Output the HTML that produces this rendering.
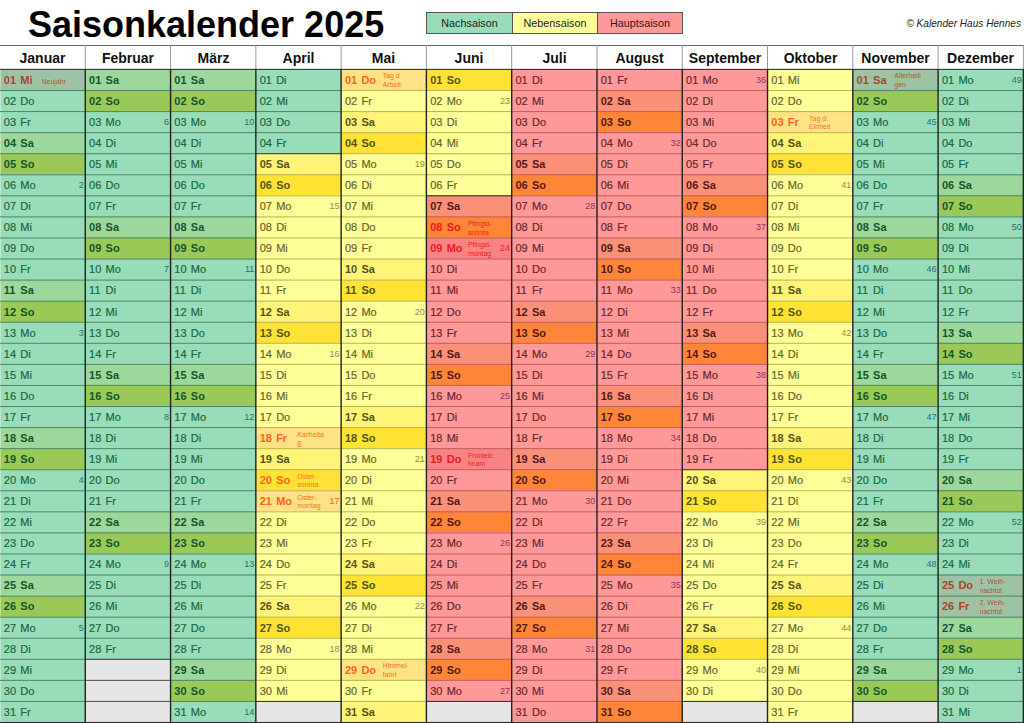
<!DOCTYPE html><html><head><meta charset="utf-8"><style>
*{margin:0;padding:0;box-sizing:border-box}
html,body{width:1024px;height:723px;overflow:hidden;background:#fff}
body{position:relative;font-family:"Liberation Sans",sans-serif}
div{position:absolute}
.c{overflow:hidden}
.d{font-size:11px;line-height:11px;white-space:nowrap;-webkit-text-stroke:0.2px currentColor}
.b{font-weight:bold;-webkit-text-stroke:0}
.k{font-size:9px;line-height:9px;text-align:right}
.h{font-size:7px;line-height:8.8px;white-space:nowrap;overflow:hidden}
.mh{font-size:14px;font-weight:bold;text-align:center;line-height:14px;color:#111}
.lg{font-size:10.8px;text-align:center;color:#222;line-height:21px}
svg{position:absolute;left:0;top:0}
</style></head><body>

<div style="left:28px;top:5px;font-size:36px;font-weight:bold;line-height:40px;color:#000;white-space:nowrap">Saisonkalender 2025</div>
<div class="lg" style="left:426px;top:12px;width:87px;height:22px;background:#98dcb9;border:1px solid #555">Nachsaison</div>
<div class="lg" style="left:512px;top:12px;width:86px;height:22px;background:#ffff99;border:1px solid #555">Nebensaison</div>
<div class="lg" style="left:597px;top:12px;width:86px;height:22px;background:#ff9999;border:1px solid #555">Hauptsaison</div>
<div style="right:3px;top:17.7px;font-size:10.1px;line-height:12px;font-style:italic;color:#222;white-space:nowrap">© Kalender Haus Hennes</div>
<div class="mh" style="left:0px;top:51px;width:85px">Januar</div>
<div class="mh" style="left:85px;top:51px;width:86px">Februar</div>
<div class="mh" style="left:171px;top:51px;width:85px">März</div>
<div class="mh" style="left:256px;top:51px;width:85px">April</div>
<div class="mh" style="left:341px;top:51px;width:85px">Mai</div>
<div class="mh" style="left:426px;top:51px;width:86px">Juni</div>
<div class="mh" style="left:512px;top:51px;width:85px">Juli</div>
<div class="mh" style="left:597px;top:51px;width:85px">August</div>
<div class="mh" style="left:682px;top:51px;width:86px">September</div>
<div class="mh" style="left:768px;top:51px;width:85px">Oktober</div>
<div class="mh" style="left:853px;top:51px;width:85px">November</div>
<div class="mh" style="left:938px;top:51px;width:85px">Dezember</div>
<div class="c" style="left:0px;top:69px;width:85px;height:22px;background:#9ec3a4">
<div class="d b" style="left:3.80px;top:6px;color:#aa462c">01</div>
<div class="d b" style="left:20.30px;top:6px;color:#aa462c">Mi</div>
<div class="h" style="left:41.50px;top:8.5px;color:#a65a3e">Neujahr</div>
</div>
<div class="c" style="left:0px;top:90px;width:85px;height:22px;background:#98dcb9">
<div class="d" style="left:3.80px;top:6px;color:#1a6840">02</div>
<div class="d" style="left:20.30px;top:6px;color:#1a6840">Do</div>
</div>
<div class="c" style="left:0px;top:111px;width:85px;height:22px;background:#98dcb9">
<div class="d" style="left:3.80px;top:6px;color:#1a6840">03</div>
<div class="d" style="left:20.30px;top:6px;color:#1a6840">Fr</div>
</div>
<div class="c" style="left:0px;top:132px;width:85px;height:22px;background:#9dd79b">
<div class="d b" style="left:3.80px;top:6px;color:#14562b">04</div>
<div class="d b" style="left:20.30px;top:6px;color:#14562b">Sa</div>
</div>
<div class="c" style="left:0px;top:153px;width:85px;height:22px;background:#9bc957">
<div class="d b" style="left:3.80px;top:6px;color:#14562b">05</div>
<div class="d b" style="left:20.30px;top:6px;color:#14562b">So</div>
</div>
<div class="c" style="left:0px;top:174px;width:85px;height:22px;background:#98dcb9">
<div class="d" style="left:3.80px;top:6px;color:#1a6840">06</div>
<div class="d" style="left:20.30px;top:6px;color:#1a6840">Mo</div>
<div class="k" style="right:1.32px;top:6.9px;color:#2a6f70">2</div>
</div>
<div class="c" style="left:0px;top:195px;width:85px;height:22px;background:#98dcb9">
<div class="d" style="left:3.80px;top:6px;color:#1a6840">07</div>
<div class="d" style="left:20.30px;top:6px;color:#1a6840">Di</div>
</div>
<div class="c" style="left:0px;top:216px;width:85px;height:22px;background:#98dcb9">
<div class="d" style="left:3.80px;top:6px;color:#1a6840">08</div>
<div class="d" style="left:20.30px;top:6px;color:#1a6840">Mi</div>
</div>
<div class="c" style="left:0px;top:237px;width:85px;height:23px;background:#98dcb9">
<div class="d" style="left:3.80px;top:6px;color:#1a6840">09</div>
<div class="d" style="left:20.30px;top:6px;color:#1a6840">Do</div>
</div>
<div class="c" style="left:0px;top:259px;width:85px;height:22px;background:#98dcb9">
<div class="d" style="left:3.80px;top:5px;color:#1a6840">10</div>
<div class="d" style="left:20.30px;top:5px;color:#1a6840">Fr</div>
</div>
<div class="c" style="left:0px;top:280px;width:85px;height:22px;background:#9dd79b">
<div class="d b" style="left:3.80px;top:5px;color:#14562b">11</div>
<div class="d b" style="left:20.30px;top:5px;color:#14562b">Sa</div>
</div>
<div class="c" style="left:0px;top:301px;width:85px;height:22px;background:#9bc957">
<div class="d b" style="left:3.80px;top:6px;color:#14562b">12</div>
<div class="d b" style="left:20.30px;top:6px;color:#14562b">So</div>
</div>
<div class="c" style="left:0px;top:322px;width:85px;height:22px;background:#98dcb9">
<div class="d" style="left:3.80px;top:6px;color:#1a6840">13</div>
<div class="d" style="left:20.30px;top:6px;color:#1a6840">Mo</div>
<div class="k" style="right:1.32px;top:6.9px;color:#2a6f70">3</div>
</div>
<div class="c" style="left:0px;top:343px;width:85px;height:22px;background:#98dcb9">
<div class="d" style="left:3.80px;top:6px;color:#1a6840">14</div>
<div class="d" style="left:20.30px;top:6px;color:#1a6840">Di</div>
</div>
<div class="c" style="left:0px;top:364px;width:85px;height:22px;background:#98dcb9">
<div class="d" style="left:3.80px;top:6px;color:#1a6840">15</div>
<div class="d" style="left:20.30px;top:6px;color:#1a6840">Mi</div>
</div>
<div class="c" style="left:0px;top:385px;width:85px;height:22px;background:#98dcb9">
<div class="d" style="left:3.80px;top:6px;color:#1a6840">16</div>
<div class="d" style="left:20.30px;top:6px;color:#1a6840">Do</div>
</div>
<div class="c" style="left:0px;top:406px;width:85px;height:22px;background:#98dcb9">
<div class="d" style="left:3.80px;top:6px;color:#1a6840">17</div>
<div class="d" style="left:20.30px;top:6px;color:#1a6840">Fr</div>
</div>
<div class="c" style="left:0px;top:427px;width:85px;height:22px;background:#9dd79b">
<div class="d b" style="left:3.80px;top:6px;color:#14562b">18</div>
<div class="d b" style="left:20.30px;top:6px;color:#14562b">Sa</div>
</div>
<div class="c" style="left:0px;top:448px;width:85px;height:22px;background:#9bc957">
<div class="d b" style="left:3.80px;top:6px;color:#14562b">19</div>
<div class="d b" style="left:20.30px;top:6px;color:#14562b">So</div>
</div>
<div class="c" style="left:0px;top:469px;width:85px;height:22px;background:#98dcb9">
<div class="d" style="left:3.80px;top:6px;color:#1a6840">20</div>
<div class="d" style="left:20.30px;top:6px;color:#1a6840">Mo</div>
<div class="k" style="right:1.32px;top:6.9px;color:#2a6f70">4</div>
</div>
<div class="c" style="left:0px;top:490px;width:85px;height:22px;background:#98dcb9">
<div class="d" style="left:3.80px;top:6px;color:#1a6840">21</div>
<div class="d" style="left:20.30px;top:6px;color:#1a6840">Di</div>
</div>
<div class="c" style="left:0px;top:511px;width:85px;height:22px;background:#98dcb9">
<div class="d" style="left:3.80px;top:6px;color:#1a6840">22</div>
<div class="d" style="left:20.30px;top:6px;color:#1a6840">Mi</div>
</div>
<div class="c" style="left:0px;top:532px;width:85px;height:22px;background:#98dcb9">
<div class="d" style="left:3.80px;top:6px;color:#1a6840">23</div>
<div class="d" style="left:20.30px;top:6px;color:#1a6840">Do</div>
</div>
<div class="c" style="left:0px;top:553px;width:85px;height:23px;background:#98dcb9">
<div class="d" style="left:3.80px;top:6px;color:#1a6840">24</div>
<div class="d" style="left:20.30px;top:6px;color:#1a6840">Fr</div>
</div>
<div class="c" style="left:0px;top:575px;width:85px;height:22px;background:#9dd79b">
<div class="d b" style="left:3.80px;top:5px;color:#14562b">25</div>
<div class="d b" style="left:20.30px;top:5px;color:#14562b">Sa</div>
</div>
<div class="c" style="left:0px;top:596px;width:85px;height:22px;background:#9bc957">
<div class="d b" style="left:3.80px;top:5px;color:#14562b">26</div>
<div class="d b" style="left:20.30px;top:5px;color:#14562b">So</div>
</div>
<div class="c" style="left:0px;top:617px;width:85px;height:22px;background:#98dcb9">
<div class="d" style="left:3.80px;top:6px;color:#1a6840">27</div>
<div class="d" style="left:20.30px;top:6px;color:#1a6840">Mo</div>
<div class="k" style="right:1.32px;top:6.9px;color:#2a6f70">5</div>
</div>
<div class="c" style="left:0px;top:638px;width:85px;height:22px;background:#98dcb9">
<div class="d" style="left:3.80px;top:6px;color:#1a6840">28</div>
<div class="d" style="left:20.30px;top:6px;color:#1a6840">Di</div>
</div>
<div class="c" style="left:0px;top:659px;width:85px;height:22px;background:#98dcb9">
<div class="d" style="left:3.80px;top:6px;color:#1a6840">29</div>
<div class="d" style="left:20.30px;top:6px;color:#1a6840">Mi</div>
</div>
<div class="c" style="left:0px;top:680px;width:85px;height:22px;background:#98dcb9">
<div class="d" style="left:3.80px;top:6px;color:#1a6840">30</div>
<div class="d" style="left:20.30px;top:6px;color:#1a6840">Do</div>
</div>
<div class="c" style="left:0px;top:701px;width:85px;height:22px;background:#98dcb9">
<div class="d" style="left:3.80px;top:6px;color:#1a6840">31</div>
<div class="d" style="left:20.30px;top:6px;color:#1a6840">Fr</div>
</div>
<div class="c" style="left:85px;top:69px;width:86px;height:22px;background:#9dd79b">
<div class="d b" style="left:4.08px;top:6px;color:#14562b">01</div>
<div class="d b" style="left:20.58px;top:6px;color:#14562b">Sa</div>
</div>
<div class="c" style="left:85px;top:90px;width:86px;height:22px;background:#9bc957">
<div class="d b" style="left:4.08px;top:6px;color:#14562b">02</div>
<div class="d b" style="left:20.58px;top:6px;color:#14562b">So</div>
</div>
<div class="c" style="left:85px;top:111px;width:86px;height:22px;background:#98dcb9">
<div class="d" style="left:4.08px;top:6px;color:#1a6840">03</div>
<div class="d" style="left:20.58px;top:6px;color:#1a6840">Mo</div>
<div class="k" style="right:2.04px;top:6.9px;color:#2a6f70">6</div>
</div>
<div class="c" style="left:85px;top:132px;width:86px;height:22px;background:#98dcb9">
<div class="d" style="left:4.08px;top:6px;color:#1a6840">04</div>
<div class="d" style="left:20.58px;top:6px;color:#1a6840">Di</div>
</div>
<div class="c" style="left:85px;top:153px;width:86px;height:22px;background:#98dcb9">
<div class="d" style="left:4.08px;top:6px;color:#1a6840">05</div>
<div class="d" style="left:20.58px;top:6px;color:#1a6840">Mi</div>
</div>
<div class="c" style="left:85px;top:174px;width:86px;height:22px;background:#98dcb9">
<div class="d" style="left:4.08px;top:6px;color:#1a6840">06</div>
<div class="d" style="left:20.58px;top:6px;color:#1a6840">Do</div>
</div>
<div class="c" style="left:85px;top:195px;width:86px;height:22px;background:#98dcb9">
<div class="d" style="left:4.08px;top:6px;color:#1a6840">07</div>
<div class="d" style="left:20.58px;top:6px;color:#1a6840">Fr</div>
</div>
<div class="c" style="left:85px;top:216px;width:86px;height:22px;background:#9dd79b">
<div class="d b" style="left:4.08px;top:6px;color:#14562b">08</div>
<div class="d b" style="left:20.58px;top:6px;color:#14562b">Sa</div>
</div>
<div class="c" style="left:85px;top:237px;width:86px;height:23px;background:#9bc957">
<div class="d b" style="left:4.08px;top:6px;color:#14562b">09</div>
<div class="d b" style="left:20.58px;top:6px;color:#14562b">So</div>
</div>
<div class="c" style="left:85px;top:259px;width:86px;height:22px;background:#98dcb9">
<div class="d" style="left:4.08px;top:5px;color:#1a6840">10</div>
<div class="d" style="left:20.58px;top:5px;color:#1a6840">Mo</div>
<div class="k" style="right:2.04px;top:5.9px;color:#2a6f70">7</div>
</div>
<div class="c" style="left:85px;top:280px;width:86px;height:22px;background:#98dcb9">
<div class="d" style="left:4.08px;top:5px;color:#1a6840">11</div>
<div class="d" style="left:20.58px;top:5px;color:#1a6840">Di</div>
</div>
<div class="c" style="left:85px;top:301px;width:86px;height:22px;background:#98dcb9">
<div class="d" style="left:4.08px;top:6px;color:#1a6840">12</div>
<div class="d" style="left:20.58px;top:6px;color:#1a6840">Mi</div>
</div>
<div class="c" style="left:85px;top:322px;width:86px;height:22px;background:#98dcb9">
<div class="d" style="left:4.08px;top:6px;color:#1a6840">13</div>
<div class="d" style="left:20.58px;top:6px;color:#1a6840">Do</div>
</div>
<div class="c" style="left:85px;top:343px;width:86px;height:22px;background:#98dcb9">
<div class="d" style="left:4.08px;top:6px;color:#1a6840">14</div>
<div class="d" style="left:20.58px;top:6px;color:#1a6840">Fr</div>
</div>
<div class="c" style="left:85px;top:364px;width:86px;height:22px;background:#9dd79b">
<div class="d b" style="left:4.08px;top:6px;color:#14562b">15</div>
<div class="d b" style="left:20.58px;top:6px;color:#14562b">Sa</div>
</div>
<div class="c" style="left:85px;top:385px;width:86px;height:22px;background:#9bc957">
<div class="d b" style="left:4.08px;top:6px;color:#14562b">16</div>
<div class="d b" style="left:20.58px;top:6px;color:#14562b">So</div>
</div>
<div class="c" style="left:85px;top:406px;width:86px;height:22px;background:#98dcb9">
<div class="d" style="left:4.08px;top:6px;color:#1a6840">17</div>
<div class="d" style="left:20.58px;top:6px;color:#1a6840">Mo</div>
<div class="k" style="right:2.04px;top:6.9px;color:#2a6f70">8</div>
</div>
<div class="c" style="left:85px;top:427px;width:86px;height:22px;background:#98dcb9">
<div class="d" style="left:4.08px;top:6px;color:#1a6840">18</div>
<div class="d" style="left:20.58px;top:6px;color:#1a6840">Di</div>
</div>
<div class="c" style="left:85px;top:448px;width:86px;height:22px;background:#98dcb9">
<div class="d" style="left:4.08px;top:6px;color:#1a6840">19</div>
<div class="d" style="left:20.58px;top:6px;color:#1a6840">Mi</div>
</div>
<div class="c" style="left:85px;top:469px;width:86px;height:22px;background:#98dcb9">
<div class="d" style="left:4.08px;top:6px;color:#1a6840">20</div>
<div class="d" style="left:20.58px;top:6px;color:#1a6840">Do</div>
</div>
<div class="c" style="left:85px;top:490px;width:86px;height:22px;background:#98dcb9">
<div class="d" style="left:4.08px;top:6px;color:#1a6840">21</div>
<div class="d" style="left:20.58px;top:6px;color:#1a6840">Fr</div>
</div>
<div class="c" style="left:85px;top:511px;width:86px;height:22px;background:#9dd79b">
<div class="d b" style="left:4.08px;top:6px;color:#14562b">22</div>
<div class="d b" style="left:20.58px;top:6px;color:#14562b">Sa</div>
</div>
<div class="c" style="left:85px;top:532px;width:86px;height:22px;background:#9bc957">
<div class="d b" style="left:4.08px;top:6px;color:#14562b">23</div>
<div class="d b" style="left:20.58px;top:6px;color:#14562b">So</div>
</div>
<div class="c" style="left:85px;top:553px;width:86px;height:23px;background:#98dcb9">
<div class="d" style="left:4.08px;top:6px;color:#1a6840">24</div>
<div class="d" style="left:20.58px;top:6px;color:#1a6840">Mo</div>
<div class="k" style="right:2.04px;top:6.9px;color:#2a6f70">9</div>
</div>
<div class="c" style="left:85px;top:575px;width:86px;height:22px;background:#98dcb9">
<div class="d" style="left:4.08px;top:5px;color:#1a6840">25</div>
<div class="d" style="left:20.58px;top:5px;color:#1a6840">Di</div>
</div>
<div class="c" style="left:85px;top:596px;width:86px;height:22px;background:#98dcb9">
<div class="d" style="left:4.08px;top:5px;color:#1a6840">26</div>
<div class="d" style="left:20.58px;top:5px;color:#1a6840">Mi</div>
</div>
<div class="c" style="left:85px;top:617px;width:86px;height:22px;background:#98dcb9">
<div class="d" style="left:4.08px;top:6px;color:#1a6840">27</div>
<div class="d" style="left:20.58px;top:6px;color:#1a6840">Do</div>
</div>
<div class="c" style="left:85px;top:638px;width:86px;height:22px;background:#98dcb9">
<div class="d" style="left:4.08px;top:6px;color:#1a6840">28</div>
<div class="d" style="left:20.58px;top:6px;color:#1a6840">Fr</div>
</div>
<div style="left:85px;top:659px;width:86px;height:22px;background:#e6e6e6"></div>
<div style="left:85px;top:680px;width:86px;height:22px;background:#e6e6e6"></div>
<div style="left:85px;top:701px;width:86px;height:22px;background:#e6e6e6"></div>
<div class="c" style="left:171px;top:69px;width:85px;height:22px;background:#9dd79b">
<div class="d b" style="left:3.36px;top:6px;color:#14562b">01</div>
<div class="d b" style="left:19.86px;top:6px;color:#14562b">Sa</div>
</div>
<div class="c" style="left:171px;top:90px;width:85px;height:22px;background:#9bc957">
<div class="d b" style="left:3.36px;top:6px;color:#14562b">02</div>
<div class="d b" style="left:19.86px;top:6px;color:#14562b">So</div>
</div>
<div class="c" style="left:171px;top:111px;width:85px;height:22px;background:#98dcb9">
<div class="d" style="left:3.36px;top:6px;color:#1a6840">03</div>
<div class="d" style="left:19.86px;top:6px;color:#1a6840">Mo</div>
<div class="k" style="right:1.76px;top:6.9px;color:#2a6f70">10</div>
</div>
<div class="c" style="left:171px;top:132px;width:85px;height:22px;background:#98dcb9">
<div class="d" style="left:3.36px;top:6px;color:#1a6840">04</div>
<div class="d" style="left:19.86px;top:6px;color:#1a6840">Di</div>
</div>
<div class="c" style="left:171px;top:153px;width:85px;height:22px;background:#98dcb9">
<div class="d" style="left:3.36px;top:6px;color:#1a6840">05</div>
<div class="d" style="left:19.86px;top:6px;color:#1a6840">Mi</div>
</div>
<div class="c" style="left:171px;top:174px;width:85px;height:22px;background:#98dcb9">
<div class="d" style="left:3.36px;top:6px;color:#1a6840">06</div>
<div class="d" style="left:19.86px;top:6px;color:#1a6840">Do</div>
</div>
<div class="c" style="left:171px;top:195px;width:85px;height:22px;background:#98dcb9">
<div class="d" style="left:3.36px;top:6px;color:#1a6840">07</div>
<div class="d" style="left:19.86px;top:6px;color:#1a6840">Fr</div>
</div>
<div class="c" style="left:171px;top:216px;width:85px;height:22px;background:#9dd79b">
<div class="d b" style="left:3.36px;top:6px;color:#14562b">08</div>
<div class="d b" style="left:19.86px;top:6px;color:#14562b">Sa</div>
</div>
<div class="c" style="left:171px;top:237px;width:85px;height:23px;background:#9bc957">
<div class="d b" style="left:3.36px;top:6px;color:#14562b">09</div>
<div class="d b" style="left:19.86px;top:6px;color:#14562b">So</div>
</div>
<div class="c" style="left:171px;top:259px;width:85px;height:22px;background:#98dcb9">
<div class="d" style="left:3.36px;top:5px;color:#1a6840">10</div>
<div class="d" style="left:19.86px;top:5px;color:#1a6840">Mo</div>
<div class="k" style="right:1.76px;top:5.9px;color:#2a6f70">11</div>
</div>
<div class="c" style="left:171px;top:280px;width:85px;height:22px;background:#98dcb9">
<div class="d" style="left:3.36px;top:5px;color:#1a6840">11</div>
<div class="d" style="left:19.86px;top:5px;color:#1a6840">Di</div>
</div>
<div class="c" style="left:171px;top:301px;width:85px;height:22px;background:#98dcb9">
<div class="d" style="left:3.36px;top:6px;color:#1a6840">12</div>
<div class="d" style="left:19.86px;top:6px;color:#1a6840">Mi</div>
</div>
<div class="c" style="left:171px;top:322px;width:85px;height:22px;background:#98dcb9">
<div class="d" style="left:3.36px;top:6px;color:#1a6840">13</div>
<div class="d" style="left:19.86px;top:6px;color:#1a6840">Do</div>
</div>
<div class="c" style="left:171px;top:343px;width:85px;height:22px;background:#98dcb9">
<div class="d" style="left:3.36px;top:6px;color:#1a6840">14</div>
<div class="d" style="left:19.86px;top:6px;color:#1a6840">Fr</div>
</div>
<div class="c" style="left:171px;top:364px;width:85px;height:22px;background:#9dd79b">
<div class="d b" style="left:3.36px;top:6px;color:#14562b">15</div>
<div class="d b" style="left:19.86px;top:6px;color:#14562b">Sa</div>
</div>
<div class="c" style="left:171px;top:385px;width:85px;height:22px;background:#9bc957">
<div class="d b" style="left:3.36px;top:6px;color:#14562b">16</div>
<div class="d b" style="left:19.86px;top:6px;color:#14562b">So</div>
</div>
<div class="c" style="left:171px;top:406px;width:85px;height:22px;background:#98dcb9">
<div class="d" style="left:3.36px;top:6px;color:#1a6840">17</div>
<div class="d" style="left:19.86px;top:6px;color:#1a6840">Mo</div>
<div class="k" style="right:1.76px;top:6.9px;color:#2a6f70">12</div>
</div>
<div class="c" style="left:171px;top:427px;width:85px;height:22px;background:#98dcb9">
<div class="d" style="left:3.36px;top:6px;color:#1a6840">18</div>
<div class="d" style="left:19.86px;top:6px;color:#1a6840">Di</div>
</div>
<div class="c" style="left:171px;top:448px;width:85px;height:22px;background:#98dcb9">
<div class="d" style="left:3.36px;top:6px;color:#1a6840">19</div>
<div class="d" style="left:19.86px;top:6px;color:#1a6840">Mi</div>
</div>
<div class="c" style="left:171px;top:469px;width:85px;height:22px;background:#98dcb9">
<div class="d" style="left:3.36px;top:6px;color:#1a6840">20</div>
<div class="d" style="left:19.86px;top:6px;color:#1a6840">Do</div>
</div>
<div class="c" style="left:171px;top:490px;width:85px;height:22px;background:#98dcb9">
<div class="d" style="left:3.36px;top:6px;color:#1a6840">21</div>
<div class="d" style="left:19.86px;top:6px;color:#1a6840">Fr</div>
</div>
<div class="c" style="left:171px;top:511px;width:85px;height:22px;background:#9dd79b">
<div class="d b" style="left:3.36px;top:6px;color:#14562b">22</div>
<div class="d b" style="left:19.86px;top:6px;color:#14562b">Sa</div>
</div>
<div class="c" style="left:171px;top:532px;width:85px;height:22px;background:#9bc957">
<div class="d b" style="left:3.36px;top:6px;color:#14562b">23</div>
<div class="d b" style="left:19.86px;top:6px;color:#14562b">So</div>
</div>
<div class="c" style="left:171px;top:553px;width:85px;height:23px;background:#98dcb9">
<div class="d" style="left:3.36px;top:6px;color:#1a6840">24</div>
<div class="d" style="left:19.86px;top:6px;color:#1a6840">Mo</div>
<div class="k" style="right:1.76px;top:6.9px;color:#2a6f70">13</div>
</div>
<div class="c" style="left:171px;top:575px;width:85px;height:22px;background:#98dcb9">
<div class="d" style="left:3.36px;top:5px;color:#1a6840">25</div>
<div class="d" style="left:19.86px;top:5px;color:#1a6840">Di</div>
</div>
<div class="c" style="left:171px;top:596px;width:85px;height:22px;background:#98dcb9">
<div class="d" style="left:3.36px;top:5px;color:#1a6840">26</div>
<div class="d" style="left:19.86px;top:5px;color:#1a6840">Mi</div>
</div>
<div class="c" style="left:171px;top:617px;width:85px;height:22px;background:#98dcb9">
<div class="d" style="left:3.36px;top:6px;color:#1a6840">27</div>
<div class="d" style="left:19.86px;top:6px;color:#1a6840">Do</div>
</div>
<div class="c" style="left:171px;top:638px;width:85px;height:22px;background:#98dcb9">
<div class="d" style="left:3.36px;top:6px;color:#1a6840">28</div>
<div class="d" style="left:19.86px;top:6px;color:#1a6840">Fr</div>
</div>
<div class="c" style="left:171px;top:659px;width:85px;height:22px;background:#9dd79b">
<div class="d b" style="left:3.36px;top:6px;color:#14562b">29</div>
<div class="d b" style="left:19.86px;top:6px;color:#14562b">Sa</div>
</div>
<div class="c" style="left:171px;top:680px;width:85px;height:22px;background:#9bc957">
<div class="d b" style="left:3.36px;top:6px;color:#14562b">30</div>
<div class="d b" style="left:19.86px;top:6px;color:#14562b">So</div>
</div>
<div class="c" style="left:171px;top:701px;width:85px;height:22px;background:#98dcb9">
<div class="d" style="left:3.36px;top:6px;color:#1a6840">31</div>
<div class="d" style="left:19.86px;top:6px;color:#1a6840">Mo</div>
<div class="k" style="right:1.76px;top:6.9px;color:#2a6f70">14</div>
</div>
<div class="c" style="left:256px;top:69px;width:85px;height:22px;background:#98dcb9">
<div class="d" style="left:3.64px;top:6px;color:#1a6840">01</div>
<div class="d" style="left:20.14px;top:6px;color:#1a6840">Di</div>
</div>
<div class="c" style="left:256px;top:90px;width:85px;height:22px;background:#98dcb9">
<div class="d" style="left:3.64px;top:6px;color:#1a6840">02</div>
<div class="d" style="left:20.14px;top:6px;color:#1a6840">Mi</div>
</div>
<div class="c" style="left:256px;top:111px;width:85px;height:22px;background:#98dcb9">
<div class="d" style="left:3.64px;top:6px;color:#1a6840">03</div>
<div class="d" style="left:20.14px;top:6px;color:#1a6840">Do</div>
</div>
<div class="c" style="left:256px;top:132px;width:85px;height:22px;background:#98dcb9">
<div class="d" style="left:3.64px;top:6px;color:#1a6840">04</div>
<div class="d" style="left:20.14px;top:6px;color:#1a6840">Fr</div>
</div>
<div class="c" style="left:256px;top:153px;width:85px;height:22px;background:#fff378">
<div class="d b" style="left:3.64px;top:6px;color:#55551a">05</div>
<div class="d b" style="left:20.14px;top:6px;color:#55551a">Sa</div>
</div>
<div class="c" style="left:256px;top:174px;width:85px;height:22px;background:#ffe234">
<div class="d b" style="left:3.64px;top:6px;color:#55551a">06</div>
<div class="d b" style="left:20.14px;top:6px;color:#55551a">So</div>
</div>
<div class="c" style="left:256px;top:195px;width:85px;height:22px;background:#ffff99">
<div class="d" style="left:3.64px;top:6px;color:#66662a">07</div>
<div class="d" style="left:20.14px;top:6px;color:#66662a">Mo</div>
<div class="k" style="right:1.48px;top:6.9px;color:#8c8c55">15</div>
</div>
<div class="c" style="left:256px;top:216px;width:85px;height:22px;background:#ffff99">
<div class="d" style="left:3.64px;top:6px;color:#66662a">08</div>
<div class="d" style="left:20.14px;top:6px;color:#66662a">Di</div>
</div>
<div class="c" style="left:256px;top:237px;width:85px;height:23px;background:#ffff99">
<div class="d" style="left:3.64px;top:6px;color:#66662a">09</div>
<div class="d" style="left:20.14px;top:6px;color:#66662a">Mi</div>
</div>
<div class="c" style="left:256px;top:259px;width:85px;height:22px;background:#ffff99">
<div class="d" style="left:3.64px;top:5px;color:#66662a">10</div>
<div class="d" style="left:20.14px;top:5px;color:#66662a">Do</div>
</div>
<div class="c" style="left:256px;top:280px;width:85px;height:22px;background:#ffff99">
<div class="d" style="left:3.64px;top:5px;color:#66662a">11</div>
<div class="d" style="left:20.14px;top:5px;color:#66662a">Fr</div>
</div>
<div class="c" style="left:256px;top:301px;width:85px;height:22px;background:#fff378">
<div class="d b" style="left:3.64px;top:6px;color:#55551a">12</div>
<div class="d b" style="left:20.14px;top:6px;color:#55551a">Sa</div>
</div>
<div class="c" style="left:256px;top:322px;width:85px;height:22px;background:#ffe234">
<div class="d b" style="left:3.64px;top:6px;color:#55551a">13</div>
<div class="d b" style="left:20.14px;top:6px;color:#55551a">So</div>
</div>
<div class="c" style="left:256px;top:343px;width:85px;height:22px;background:#ffff99">
<div class="d" style="left:3.64px;top:6px;color:#66662a">14</div>
<div class="d" style="left:20.14px;top:6px;color:#66662a">Mo</div>
<div class="k" style="right:1.48px;top:6.9px;color:#8c8c55">16</div>
</div>
<div class="c" style="left:256px;top:364px;width:85px;height:22px;background:#ffff99">
<div class="d" style="left:3.64px;top:6px;color:#66662a">15</div>
<div class="d" style="left:20.14px;top:6px;color:#66662a">Di</div>
</div>
<div class="c" style="left:256px;top:385px;width:85px;height:22px;background:#ffff99">
<div class="d" style="left:3.64px;top:6px;color:#66662a">16</div>
<div class="d" style="left:20.14px;top:6px;color:#66662a">Mi</div>
</div>
<div class="c" style="left:256px;top:406px;width:85px;height:22px;background:#ffff99">
<div class="d" style="left:3.64px;top:6px;color:#66662a">17</div>
<div class="d" style="left:20.14px;top:6px;color:#66662a">Do</div>
</div>
<div class="c" style="left:256px;top:427px;width:85px;height:22px;background:#ffe186">
<div class="d b" style="left:3.64px;top:6px;color:#ff6619">18</div>
<div class="d b" style="left:20.14px;top:6px;color:#ff6619">Fr</div>
<div class="h" style="left:41.34px;top:3.5px;width:34px;color:#f57425">Karfreita<br>g</div>
</div>
<div class="c" style="left:256px;top:448px;width:85px;height:22px;background:#fff378">
<div class="d b" style="left:3.64px;top:6px;color:#55551a">19</div>
<div class="d b" style="left:20.14px;top:6px;color:#55551a">Sa</div>
</div>
<div class="c" style="left:256px;top:469px;width:85px;height:22px;background:#ffe234">
<div class="d b" style="left:3.64px;top:6px;color:#ff6619">20</div>
<div class="d b" style="left:20.14px;top:6px;color:#ff6619">So</div>
<div class="h" style="left:41.34px;top:3.7px;width:34px;color:#f57425">Oster-<br>sonnta</div>
</div>
<div class="c" style="left:256px;top:490px;width:85px;height:22px;background:#ffe186">
<div class="d b" style="left:3.64px;top:6px;color:#ff6619">21</div>
<div class="d b" style="left:20.14px;top:6px;color:#ff6619">Mo</div>
<div class="h" style="left:41.34px;top:3.7px;width:34px;color:#f57425">Oster-<br>montag</div>
<div class="k" style="right:1.48px;top:6.9px;color:#ff6619">17</div>
</div>
<div class="c" style="left:256px;top:511px;width:85px;height:22px;background:#ffff99">
<div class="d" style="left:3.64px;top:6px;color:#66662a">22</div>
<div class="d" style="left:20.14px;top:6px;color:#66662a">Di</div>
</div>
<div class="c" style="left:256px;top:532px;width:85px;height:22px;background:#ffff99">
<div class="d" style="left:3.64px;top:6px;color:#66662a">23</div>
<div class="d" style="left:20.14px;top:6px;color:#66662a">Mi</div>
</div>
<div class="c" style="left:256px;top:553px;width:85px;height:23px;background:#ffff99">
<div class="d" style="left:3.64px;top:6px;color:#66662a">24</div>
<div class="d" style="left:20.14px;top:6px;color:#66662a">Do</div>
</div>
<div class="c" style="left:256px;top:575px;width:85px;height:22px;background:#ffff99">
<div class="d" style="left:3.64px;top:5px;color:#66662a">25</div>
<div class="d" style="left:20.14px;top:5px;color:#66662a">Fr</div>
</div>
<div class="c" style="left:256px;top:596px;width:85px;height:22px;background:#fff378">
<div class="d b" style="left:3.64px;top:5px;color:#55551a">26</div>
<div class="d b" style="left:20.14px;top:5px;color:#55551a">Sa</div>
</div>
<div class="c" style="left:256px;top:617px;width:85px;height:22px;background:#ffe234">
<div class="d b" style="left:3.64px;top:6px;color:#55551a">27</div>
<div class="d b" style="left:20.14px;top:6px;color:#55551a">So</div>
</div>
<div class="c" style="left:256px;top:638px;width:85px;height:22px;background:#ffff99">
<div class="d" style="left:3.64px;top:6px;color:#66662a">28</div>
<div class="d" style="left:20.14px;top:6px;color:#66662a">Mo</div>
<div class="k" style="right:1.48px;top:6.9px;color:#8c8c55">18</div>
</div>
<div class="c" style="left:256px;top:659px;width:85px;height:22px;background:#ffff99">
<div class="d" style="left:3.64px;top:6px;color:#66662a">29</div>
<div class="d" style="left:20.14px;top:6px;color:#66662a">Di</div>
</div>
<div class="c" style="left:256px;top:680px;width:85px;height:22px;background:#ffff99">
<div class="d" style="left:3.64px;top:6px;color:#66662a">30</div>
<div class="d" style="left:20.14px;top:6px;color:#66662a">Mi</div>
</div>
<div style="left:256px;top:701px;width:85px;height:22px;background:#e6e6e6"></div>
<div class="c" style="left:341px;top:69px;width:85px;height:22px;background:#ffe186">
<div class="d b" style="left:3.92px;top:6px;color:#ff6619">01</div>
<div class="d b" style="left:20.42px;top:6px;color:#ff6619">Do</div>
<div class="h" style="left:41.62px;top:3.4px;width:34px;color:#f57425">Tag d<br>Arbeit</div>
</div>
<div class="c" style="left:341px;top:90px;width:85px;height:22px;background:#ffff99">
<div class="d" style="left:3.92px;top:6px;color:#66662a">02</div>
<div class="d" style="left:20.42px;top:6px;color:#66662a">Fr</div>
</div>
<div class="c" style="left:341px;top:111px;width:85px;height:22px;background:#fff378">
<div class="d b" style="left:3.92px;top:6px;color:#55551a">03</div>
<div class="d b" style="left:20.42px;top:6px;color:#55551a">Sa</div>
</div>
<div class="c" style="left:341px;top:132px;width:85px;height:22px;background:#ffe234">
<div class="d b" style="left:3.92px;top:6px;color:#55551a">04</div>
<div class="d b" style="left:20.42px;top:6px;color:#55551a">So</div>
</div>
<div class="c" style="left:341px;top:153px;width:85px;height:22px;background:#ffff99">
<div class="d" style="left:3.92px;top:6px;color:#66662a">05</div>
<div class="d" style="left:20.42px;top:6px;color:#66662a">Mo</div>
<div class="k" style="right:1.20px;top:6.9px;color:#8c8c55">19</div>
</div>
<div class="c" style="left:341px;top:174px;width:85px;height:22px;background:#ffff99">
<div class="d" style="left:3.92px;top:6px;color:#66662a">06</div>
<div class="d" style="left:20.42px;top:6px;color:#66662a">Di</div>
</div>
<div class="c" style="left:341px;top:195px;width:85px;height:22px;background:#ffff99">
<div class="d" style="left:3.92px;top:6px;color:#66662a">07</div>
<div class="d" style="left:20.42px;top:6px;color:#66662a">Mi</div>
</div>
<div class="c" style="left:341px;top:216px;width:85px;height:22px;background:#ffff99">
<div class="d" style="left:3.92px;top:6px;color:#66662a">08</div>
<div class="d" style="left:20.42px;top:6px;color:#66662a">Do</div>
</div>
<div class="c" style="left:341px;top:237px;width:85px;height:23px;background:#ffff99">
<div class="d" style="left:3.92px;top:6px;color:#66662a">09</div>
<div class="d" style="left:20.42px;top:6px;color:#66662a">Fr</div>
</div>
<div class="c" style="left:341px;top:259px;width:85px;height:22px;background:#fff378">
<div class="d b" style="left:3.92px;top:5px;color:#55551a">10</div>
<div class="d b" style="left:20.42px;top:5px;color:#55551a">Sa</div>
</div>
<div class="c" style="left:341px;top:280px;width:85px;height:22px;background:#ffe234">
<div class="d b" style="left:3.92px;top:5px;color:#55551a">11</div>
<div class="d b" style="left:20.42px;top:5px;color:#55551a">So</div>
</div>
<div class="c" style="left:341px;top:301px;width:85px;height:22px;background:#ffff99">
<div class="d" style="left:3.92px;top:6px;color:#66662a">12</div>
<div class="d" style="left:20.42px;top:6px;color:#66662a">Mo</div>
<div class="k" style="right:1.20px;top:6.9px;color:#8c8c55">20</div>
</div>
<div class="c" style="left:341px;top:322px;width:85px;height:22px;background:#ffff99">
<div class="d" style="left:3.92px;top:6px;color:#66662a">13</div>
<div class="d" style="left:20.42px;top:6px;color:#66662a">Di</div>
</div>
<div class="c" style="left:341px;top:343px;width:85px;height:22px;background:#ffff99">
<div class="d" style="left:3.92px;top:6px;color:#66662a">14</div>
<div class="d" style="left:20.42px;top:6px;color:#66662a">Mi</div>
</div>
<div class="c" style="left:341px;top:364px;width:85px;height:22px;background:#ffff99">
<div class="d" style="left:3.92px;top:6px;color:#66662a">15</div>
<div class="d" style="left:20.42px;top:6px;color:#66662a">Do</div>
</div>
<div class="c" style="left:341px;top:385px;width:85px;height:22px;background:#ffff99">
<div class="d" style="left:3.92px;top:6px;color:#66662a">16</div>
<div class="d" style="left:20.42px;top:6px;color:#66662a">Fr</div>
</div>
<div class="c" style="left:341px;top:406px;width:85px;height:22px;background:#fff378">
<div class="d b" style="left:3.92px;top:6px;color:#55551a">17</div>
<div class="d b" style="left:20.42px;top:6px;color:#55551a">Sa</div>
</div>
<div class="c" style="left:341px;top:427px;width:85px;height:22px;background:#ffe234">
<div class="d b" style="left:3.92px;top:6px;color:#55551a">18</div>
<div class="d b" style="left:20.42px;top:6px;color:#55551a">So</div>
</div>
<div class="c" style="left:341px;top:448px;width:85px;height:22px;background:#ffff99">
<div class="d" style="left:3.92px;top:6px;color:#66662a">19</div>
<div class="d" style="left:20.42px;top:6px;color:#66662a">Mo</div>
<div class="k" style="right:1.20px;top:6.9px;color:#8c8c55">21</div>
</div>
<div class="c" style="left:341px;top:469px;width:85px;height:22px;background:#ffff99">
<div class="d" style="left:3.92px;top:6px;color:#66662a">20</div>
<div class="d" style="left:20.42px;top:6px;color:#66662a">Di</div>
</div>
<div class="c" style="left:341px;top:490px;width:85px;height:22px;background:#ffff99">
<div class="d" style="left:3.92px;top:6px;color:#66662a">21</div>
<div class="d" style="left:20.42px;top:6px;color:#66662a">Mi</div>
</div>
<div class="c" style="left:341px;top:511px;width:85px;height:22px;background:#ffff99">
<div class="d" style="left:3.92px;top:6px;color:#66662a">22</div>
<div class="d" style="left:20.42px;top:6px;color:#66662a">Do</div>
</div>
<div class="c" style="left:341px;top:532px;width:85px;height:22px;background:#ffff99">
<div class="d" style="left:3.92px;top:6px;color:#66662a">23</div>
<div class="d" style="left:20.42px;top:6px;color:#66662a">Fr</div>
</div>
<div class="c" style="left:341px;top:553px;width:85px;height:23px;background:#fff378">
<div class="d b" style="left:3.92px;top:6px;color:#55551a">24</div>
<div class="d b" style="left:20.42px;top:6px;color:#55551a">Sa</div>
</div>
<div class="c" style="left:341px;top:575px;width:85px;height:22px;background:#ffe234">
<div class="d b" style="left:3.92px;top:5px;color:#55551a">25</div>
<div class="d b" style="left:20.42px;top:5px;color:#55551a">So</div>
</div>
<div class="c" style="left:341px;top:596px;width:85px;height:22px;background:#ffff99">
<div class="d" style="left:3.92px;top:5px;color:#66662a">26</div>
<div class="d" style="left:20.42px;top:5px;color:#66662a">Mo</div>
<div class="k" style="right:1.20px;top:5.9px;color:#8c8c55">22</div>
</div>
<div class="c" style="left:341px;top:617px;width:85px;height:22px;background:#ffff99">
<div class="d" style="left:3.92px;top:6px;color:#66662a">27</div>
<div class="d" style="left:20.42px;top:6px;color:#66662a">Di</div>
</div>
<div class="c" style="left:341px;top:638px;width:85px;height:22px;background:#ffff99">
<div class="d" style="left:3.92px;top:6px;color:#66662a">28</div>
<div class="d" style="left:20.42px;top:6px;color:#66662a">Mi</div>
</div>
<div class="c" style="left:341px;top:659px;width:85px;height:22px;background:#ffe186">
<div class="d b" style="left:3.92px;top:6px;color:#ff6619">29</div>
<div class="d b" style="left:20.42px;top:6px;color:#ff6619">Do</div>
<div class="h" style="left:41.62px;top:3.3px;width:34px;color:#f57425">Himmel-<br>fahrt</div>
</div>
<div class="c" style="left:341px;top:680px;width:85px;height:22px;background:#ffff99">
<div class="d" style="left:3.92px;top:6px;color:#66662a">30</div>
<div class="d" style="left:20.42px;top:6px;color:#66662a">Fr</div>
</div>
<div class="c" style="left:341px;top:701px;width:85px;height:22px;background:#fff378">
<div class="d b" style="left:3.92px;top:6px;color:#55551a">31</div>
<div class="d b" style="left:20.42px;top:6px;color:#55551a">Sa</div>
</div>
<div class="c" style="left:426px;top:69px;width:86px;height:22px;background:#ffe234">
<div class="d b" style="left:4.20px;top:6px;color:#55551a">01</div>
<div class="d b" style="left:20.70px;top:6px;color:#55551a">So</div>
</div>
<div class="c" style="left:426px;top:90px;width:86px;height:22px;background:#ffff99">
<div class="d" style="left:4.20px;top:6px;color:#66662a">02</div>
<div class="d" style="left:20.70px;top:6px;color:#66662a">Mo</div>
<div class="k" style="right:1.92px;top:6.9px;color:#8c8c55">23</div>
</div>
<div class="c" style="left:426px;top:111px;width:86px;height:22px;background:#ffff99">
<div class="d" style="left:4.20px;top:6px;color:#66662a">03</div>
<div class="d" style="left:20.70px;top:6px;color:#66662a">Di</div>
</div>
<div class="c" style="left:426px;top:132px;width:86px;height:22px;background:#ffff99">
<div class="d" style="left:4.20px;top:6px;color:#66662a">04</div>
<div class="d" style="left:20.70px;top:6px;color:#66662a">Mi</div>
</div>
<div class="c" style="left:426px;top:153px;width:86px;height:22px;background:#ffff99">
<div class="d" style="left:4.20px;top:6px;color:#66662a">05</div>
<div class="d" style="left:20.70px;top:6px;color:#66662a">Do</div>
</div>
<div class="c" style="left:426px;top:174px;width:86px;height:22px;background:#ffff99">
<div class="d" style="left:4.20px;top:6px;color:#66662a">06</div>
<div class="d" style="left:20.70px;top:6px;color:#66662a">Fr</div>
</div>
<div class="c" style="left:426px;top:195px;width:86px;height:22px;background:#fa9078">
<div class="d b" style="left:4.20px;top:6px;color:#571818">07</div>
<div class="d b" style="left:20.70px;top:6px;color:#571818">Sa</div>
</div>
<div class="c" style="left:426px;top:216px;width:86px;height:22px;background:#ff8638">
<div class="d b" style="left:4.20px;top:6px;color:#ee1c1c">08</div>
<div class="d b" style="left:20.70px;top:6px;color:#ee1c1c">So</div>
<div class="h" style="left:41.90px;top:3.9px;width:34px;color:#e82424">Pfingst-<br>sonnta</div>
</div>
<div class="c" style="left:426px;top:237px;width:86px;height:23px;background:#f88385">
<div class="d b" style="left:4.20px;top:6px;color:#ee1c1c">09</div>
<div class="d b" style="left:20.70px;top:6px;color:#ee1c1c">Mo</div>
<div class="h" style="left:41.90px;top:3.9px;width:34px;color:#e82424">Pfingst-<br>montag</div>
<div class="k" style="right:1.92px;top:6.9px;color:#ee1c1c">24</div>
</div>
<div class="c" style="left:426px;top:259px;width:86px;height:22px;background:#ff9999">
<div class="d" style="left:4.20px;top:5px;color:#6a2626">10</div>
<div class="d" style="left:20.70px;top:5px;color:#6a2626">Di</div>
</div>
<div class="c" style="left:426px;top:280px;width:86px;height:22px;background:#ff9999">
<div class="d" style="left:4.20px;top:5px;color:#6a2626">11</div>
<div class="d" style="left:20.70px;top:5px;color:#6a2626">Mi</div>
</div>
<div class="c" style="left:426px;top:301px;width:86px;height:22px;background:#ff9999">
<div class="d" style="left:4.20px;top:6px;color:#6a2626">12</div>
<div class="d" style="left:20.70px;top:6px;color:#6a2626">Do</div>
</div>
<div class="c" style="left:426px;top:322px;width:86px;height:22px;background:#ff9999">
<div class="d" style="left:4.20px;top:6px;color:#6a2626">13</div>
<div class="d" style="left:20.70px;top:6px;color:#6a2626">Fr</div>
</div>
<div class="c" style="left:426px;top:343px;width:86px;height:22px;background:#fa9078">
<div class="d b" style="left:4.20px;top:6px;color:#571818">14</div>
<div class="d b" style="left:20.70px;top:6px;color:#571818">Sa</div>
</div>
<div class="c" style="left:426px;top:364px;width:86px;height:22px;background:#ff8638">
<div class="d b" style="left:4.20px;top:6px;color:#571818">15</div>
<div class="d b" style="left:20.70px;top:6px;color:#571818">So</div>
</div>
<div class="c" style="left:426px;top:385px;width:86px;height:22px;background:#ff9999">
<div class="d" style="left:4.20px;top:6px;color:#6a2626">16</div>
<div class="d" style="left:20.70px;top:6px;color:#6a2626">Mo</div>
<div class="k" style="right:1.92px;top:6.9px;color:#902e60">25</div>
</div>
<div class="c" style="left:426px;top:406px;width:86px;height:22px;background:#ff9999">
<div class="d" style="left:4.20px;top:6px;color:#6a2626">17</div>
<div class="d" style="left:20.70px;top:6px;color:#6a2626">Di</div>
</div>
<div class="c" style="left:426px;top:427px;width:86px;height:22px;background:#ff9999">
<div class="d" style="left:4.20px;top:6px;color:#6a2626">18</div>
<div class="d" style="left:20.70px;top:6px;color:#6a2626">Mi</div>
</div>
<div class="c" style="left:426px;top:448px;width:86px;height:22px;background:#f88385">
<div class="d b" style="left:4.20px;top:6px;color:#ee1c1c">19</div>
<div class="d b" style="left:20.70px;top:6px;color:#ee1c1c">Do</div>
<div class="h" style="left:41.90px;top:3.6px;width:34px;color:#e82424">Fronleic<br>hnam</div>
</div>
<div class="c" style="left:426px;top:469px;width:86px;height:22px;background:#ff9999">
<div class="d" style="left:4.20px;top:6px;color:#6a2626">20</div>
<div class="d" style="left:20.70px;top:6px;color:#6a2626">Fr</div>
</div>
<div class="c" style="left:426px;top:490px;width:86px;height:22px;background:#fa9078">
<div class="d b" style="left:4.20px;top:6px;color:#571818">21</div>
<div class="d b" style="left:20.70px;top:6px;color:#571818">Sa</div>
</div>
<div class="c" style="left:426px;top:511px;width:86px;height:22px;background:#ff8638">
<div class="d b" style="left:4.20px;top:6px;color:#571818">22</div>
<div class="d b" style="left:20.70px;top:6px;color:#571818">So</div>
</div>
<div class="c" style="left:426px;top:532px;width:86px;height:22px;background:#ff9999">
<div class="d" style="left:4.20px;top:6px;color:#6a2626">23</div>
<div class="d" style="left:20.70px;top:6px;color:#6a2626">Mo</div>
<div class="k" style="right:1.92px;top:6.9px;color:#902e60">26</div>
</div>
<div class="c" style="left:426px;top:553px;width:86px;height:23px;background:#ff9999">
<div class="d" style="left:4.20px;top:6px;color:#6a2626">24</div>
<div class="d" style="left:20.70px;top:6px;color:#6a2626">Di</div>
</div>
<div class="c" style="left:426px;top:575px;width:86px;height:22px;background:#ff9999">
<div class="d" style="left:4.20px;top:5px;color:#6a2626">25</div>
<div class="d" style="left:20.70px;top:5px;color:#6a2626">Mi</div>
</div>
<div class="c" style="left:426px;top:596px;width:86px;height:22px;background:#ff9999">
<div class="d" style="left:4.20px;top:5px;color:#6a2626">26</div>
<div class="d" style="left:20.70px;top:5px;color:#6a2626">Do</div>
</div>
<div class="c" style="left:426px;top:617px;width:86px;height:22px;background:#ff9999">
<div class="d" style="left:4.20px;top:6px;color:#6a2626">27</div>
<div class="d" style="left:20.70px;top:6px;color:#6a2626">Fr</div>
</div>
<div class="c" style="left:426px;top:638px;width:86px;height:22px;background:#fa9078">
<div class="d b" style="left:4.20px;top:6px;color:#571818">28</div>
<div class="d b" style="left:20.70px;top:6px;color:#571818">Sa</div>
</div>
<div class="c" style="left:426px;top:659px;width:86px;height:22px;background:#ff8638">
<div class="d b" style="left:4.20px;top:6px;color:#571818">29</div>
<div class="d b" style="left:20.70px;top:6px;color:#571818">So</div>
</div>
<div class="c" style="left:426px;top:680px;width:86px;height:22px;background:#ff9999">
<div class="d" style="left:4.20px;top:6px;color:#6a2626">30</div>
<div class="d" style="left:20.70px;top:6px;color:#6a2626">Mo</div>
<div class="k" style="right:1.92px;top:6.9px;color:#902e60">27</div>
</div>
<div style="left:426px;top:701px;width:86px;height:22px;background:#e6e6e6"></div>
<div class="c" style="left:512px;top:69px;width:85px;height:22px;background:#ff9999">
<div class="d" style="left:3.48px;top:6px;color:#6a2626">01</div>
<div class="d" style="left:19.98px;top:6px;color:#6a2626">Di</div>
</div>
<div class="c" style="left:512px;top:90px;width:85px;height:22px;background:#ff9999">
<div class="d" style="left:3.48px;top:6px;color:#6a2626">02</div>
<div class="d" style="left:19.98px;top:6px;color:#6a2626">Mi</div>
</div>
<div class="c" style="left:512px;top:111px;width:85px;height:22px;background:#ff9999">
<div class="d" style="left:3.48px;top:6px;color:#6a2626">03</div>
<div class="d" style="left:19.98px;top:6px;color:#6a2626">Do</div>
</div>
<div class="c" style="left:512px;top:132px;width:85px;height:22px;background:#ff9999">
<div class="d" style="left:3.48px;top:6px;color:#6a2626">04</div>
<div class="d" style="left:19.98px;top:6px;color:#6a2626">Fr</div>
</div>
<div class="c" style="left:512px;top:153px;width:85px;height:22px;background:#fa9078">
<div class="d b" style="left:3.48px;top:6px;color:#571818">05</div>
<div class="d b" style="left:19.98px;top:6px;color:#571818">Sa</div>
</div>
<div class="c" style="left:512px;top:174px;width:85px;height:22px;background:#ff8638">
<div class="d b" style="left:3.48px;top:6px;color:#571818">06</div>
<div class="d b" style="left:19.98px;top:6px;color:#571818">So</div>
</div>
<div class="c" style="left:512px;top:195px;width:85px;height:22px;background:#ff9999">
<div class="d" style="left:3.48px;top:6px;color:#6a2626">07</div>
<div class="d" style="left:19.98px;top:6px;color:#6a2626">Mo</div>
<div class="k" style="right:1.64px;top:6.9px;color:#902e60">28</div>
</div>
<div class="c" style="left:512px;top:216px;width:85px;height:22px;background:#ff9999">
<div class="d" style="left:3.48px;top:6px;color:#6a2626">08</div>
<div class="d" style="left:19.98px;top:6px;color:#6a2626">Di</div>
</div>
<div class="c" style="left:512px;top:237px;width:85px;height:23px;background:#ff9999">
<div class="d" style="left:3.48px;top:6px;color:#6a2626">09</div>
<div class="d" style="left:19.98px;top:6px;color:#6a2626">Mi</div>
</div>
<div class="c" style="left:512px;top:259px;width:85px;height:22px;background:#ff9999">
<div class="d" style="left:3.48px;top:5px;color:#6a2626">10</div>
<div class="d" style="left:19.98px;top:5px;color:#6a2626">Do</div>
</div>
<div class="c" style="left:512px;top:280px;width:85px;height:22px;background:#ff9999">
<div class="d" style="left:3.48px;top:5px;color:#6a2626">11</div>
<div class="d" style="left:19.98px;top:5px;color:#6a2626">Fr</div>
</div>
<div class="c" style="left:512px;top:301px;width:85px;height:22px;background:#fa9078">
<div class="d b" style="left:3.48px;top:6px;color:#571818">12</div>
<div class="d b" style="left:19.98px;top:6px;color:#571818">Sa</div>
</div>
<div class="c" style="left:512px;top:322px;width:85px;height:22px;background:#ff8638">
<div class="d b" style="left:3.48px;top:6px;color:#571818">13</div>
<div class="d b" style="left:19.98px;top:6px;color:#571818">So</div>
</div>
<div class="c" style="left:512px;top:343px;width:85px;height:22px;background:#ff9999">
<div class="d" style="left:3.48px;top:6px;color:#6a2626">14</div>
<div class="d" style="left:19.98px;top:6px;color:#6a2626">Mo</div>
<div class="k" style="right:1.64px;top:6.9px;color:#902e60">29</div>
</div>
<div class="c" style="left:512px;top:364px;width:85px;height:22px;background:#ff9999">
<div class="d" style="left:3.48px;top:6px;color:#6a2626">15</div>
<div class="d" style="left:19.98px;top:6px;color:#6a2626">Di</div>
</div>
<div class="c" style="left:512px;top:385px;width:85px;height:22px;background:#ff9999">
<div class="d" style="left:3.48px;top:6px;color:#6a2626">16</div>
<div class="d" style="left:19.98px;top:6px;color:#6a2626">Mi</div>
</div>
<div class="c" style="left:512px;top:406px;width:85px;height:22px;background:#ff9999">
<div class="d" style="left:3.48px;top:6px;color:#6a2626">17</div>
<div class="d" style="left:19.98px;top:6px;color:#6a2626">Do</div>
</div>
<div class="c" style="left:512px;top:427px;width:85px;height:22px;background:#ff9999">
<div class="d" style="left:3.48px;top:6px;color:#6a2626">18</div>
<div class="d" style="left:19.98px;top:6px;color:#6a2626">Fr</div>
</div>
<div class="c" style="left:512px;top:448px;width:85px;height:22px;background:#fa9078">
<div class="d b" style="left:3.48px;top:6px;color:#571818">19</div>
<div class="d b" style="left:19.98px;top:6px;color:#571818">Sa</div>
</div>
<div class="c" style="left:512px;top:469px;width:85px;height:22px;background:#ff8638">
<div class="d b" style="left:3.48px;top:6px;color:#571818">20</div>
<div class="d b" style="left:19.98px;top:6px;color:#571818">So</div>
</div>
<div class="c" style="left:512px;top:490px;width:85px;height:22px;background:#ff9999">
<div class="d" style="left:3.48px;top:6px;color:#6a2626">21</div>
<div class="d" style="left:19.98px;top:6px;color:#6a2626">Mo</div>
<div class="k" style="right:1.64px;top:6.9px;color:#902e60">30</div>
</div>
<div class="c" style="left:512px;top:511px;width:85px;height:22px;background:#ff9999">
<div class="d" style="left:3.48px;top:6px;color:#6a2626">22</div>
<div class="d" style="left:19.98px;top:6px;color:#6a2626">Di</div>
</div>
<div class="c" style="left:512px;top:532px;width:85px;height:22px;background:#ff9999">
<div class="d" style="left:3.48px;top:6px;color:#6a2626">23</div>
<div class="d" style="left:19.98px;top:6px;color:#6a2626">Mi</div>
</div>
<div class="c" style="left:512px;top:553px;width:85px;height:23px;background:#ff9999">
<div class="d" style="left:3.48px;top:6px;color:#6a2626">24</div>
<div class="d" style="left:19.98px;top:6px;color:#6a2626">Do</div>
</div>
<div class="c" style="left:512px;top:575px;width:85px;height:22px;background:#ff9999">
<div class="d" style="left:3.48px;top:5px;color:#6a2626">25</div>
<div class="d" style="left:19.98px;top:5px;color:#6a2626">Fr</div>
</div>
<div class="c" style="left:512px;top:596px;width:85px;height:22px;background:#fa9078">
<div class="d b" style="left:3.48px;top:5px;color:#571818">26</div>
<div class="d b" style="left:19.98px;top:5px;color:#571818">Sa</div>
</div>
<div class="c" style="left:512px;top:617px;width:85px;height:22px;background:#ff8638">
<div class="d b" style="left:3.48px;top:6px;color:#571818">27</div>
<div class="d b" style="left:19.98px;top:6px;color:#571818">So</div>
</div>
<div class="c" style="left:512px;top:638px;width:85px;height:22px;background:#ff9999">
<div class="d" style="left:3.48px;top:6px;color:#6a2626">28</div>
<div class="d" style="left:19.98px;top:6px;color:#6a2626">Mo</div>
<div class="k" style="right:1.64px;top:6.9px;color:#902e60">31</div>
</div>
<div class="c" style="left:512px;top:659px;width:85px;height:22px;background:#ff9999">
<div class="d" style="left:3.48px;top:6px;color:#6a2626">29</div>
<div class="d" style="left:19.98px;top:6px;color:#6a2626">Di</div>
</div>
<div class="c" style="left:512px;top:680px;width:85px;height:22px;background:#ff9999">
<div class="d" style="left:3.48px;top:6px;color:#6a2626">30</div>
<div class="d" style="left:19.98px;top:6px;color:#6a2626">Mi</div>
</div>
<div class="c" style="left:512px;top:701px;width:85px;height:22px;background:#ff9999">
<div class="d" style="left:3.48px;top:6px;color:#6a2626">31</div>
<div class="d" style="left:19.98px;top:6px;color:#6a2626">Do</div>
</div>
<div class="c" style="left:597px;top:69px;width:85px;height:22px;background:#ff9999">
<div class="d" style="left:3.76px;top:6px;color:#6a2626">01</div>
<div class="d" style="left:20.26px;top:6px;color:#6a2626">Fr</div>
</div>
<div class="c" style="left:597px;top:90px;width:85px;height:22px;background:#fa9078">
<div class="d b" style="left:3.76px;top:6px;color:#571818">02</div>
<div class="d b" style="left:20.26px;top:6px;color:#571818">Sa</div>
</div>
<div class="c" style="left:597px;top:111px;width:85px;height:22px;background:#ff8638">
<div class="d b" style="left:3.76px;top:6px;color:#571818">03</div>
<div class="d b" style="left:20.26px;top:6px;color:#571818">So</div>
</div>
<div class="c" style="left:597px;top:132px;width:85px;height:22px;background:#ff9999">
<div class="d" style="left:3.76px;top:6px;color:#6a2626">04</div>
<div class="d" style="left:20.26px;top:6px;color:#6a2626">Mo</div>
<div class="k" style="right:1.36px;top:6.9px;color:#902e60">32</div>
</div>
<div class="c" style="left:597px;top:153px;width:85px;height:22px;background:#ff9999">
<div class="d" style="left:3.76px;top:6px;color:#6a2626">05</div>
<div class="d" style="left:20.26px;top:6px;color:#6a2626">Di</div>
</div>
<div class="c" style="left:597px;top:174px;width:85px;height:22px;background:#ff9999">
<div class="d" style="left:3.76px;top:6px;color:#6a2626">06</div>
<div class="d" style="left:20.26px;top:6px;color:#6a2626">Mi</div>
</div>
<div class="c" style="left:597px;top:195px;width:85px;height:22px;background:#ff9999">
<div class="d" style="left:3.76px;top:6px;color:#6a2626">07</div>
<div class="d" style="left:20.26px;top:6px;color:#6a2626">Do</div>
</div>
<div class="c" style="left:597px;top:216px;width:85px;height:22px;background:#ff9999">
<div class="d" style="left:3.76px;top:6px;color:#6a2626">08</div>
<div class="d" style="left:20.26px;top:6px;color:#6a2626">Fr</div>
</div>
<div class="c" style="left:597px;top:237px;width:85px;height:23px;background:#fa9078">
<div class="d b" style="left:3.76px;top:6px;color:#571818">09</div>
<div class="d b" style="left:20.26px;top:6px;color:#571818">Sa</div>
</div>
<div class="c" style="left:597px;top:259px;width:85px;height:22px;background:#ff8638">
<div class="d b" style="left:3.76px;top:5px;color:#571818">10</div>
<div class="d b" style="left:20.26px;top:5px;color:#571818">So</div>
</div>
<div class="c" style="left:597px;top:280px;width:85px;height:22px;background:#ff9999">
<div class="d" style="left:3.76px;top:5px;color:#6a2626">11</div>
<div class="d" style="left:20.26px;top:5px;color:#6a2626">Mo</div>
<div class="k" style="right:1.36px;top:5.9px;color:#902e60">33</div>
</div>
<div class="c" style="left:597px;top:301px;width:85px;height:22px;background:#ff9999">
<div class="d" style="left:3.76px;top:6px;color:#6a2626">12</div>
<div class="d" style="left:20.26px;top:6px;color:#6a2626">Di</div>
</div>
<div class="c" style="left:597px;top:322px;width:85px;height:22px;background:#ff9999">
<div class="d" style="left:3.76px;top:6px;color:#6a2626">13</div>
<div class="d" style="left:20.26px;top:6px;color:#6a2626">Mi</div>
</div>
<div class="c" style="left:597px;top:343px;width:85px;height:22px;background:#ff9999">
<div class="d" style="left:3.76px;top:6px;color:#6a2626">14</div>
<div class="d" style="left:20.26px;top:6px;color:#6a2626">Do</div>
</div>
<div class="c" style="left:597px;top:364px;width:85px;height:22px;background:#ff9999">
<div class="d" style="left:3.76px;top:6px;color:#6a2626">15</div>
<div class="d" style="left:20.26px;top:6px;color:#6a2626">Fr</div>
</div>
<div class="c" style="left:597px;top:385px;width:85px;height:22px;background:#fa9078">
<div class="d b" style="left:3.76px;top:6px;color:#571818">16</div>
<div class="d b" style="left:20.26px;top:6px;color:#571818">Sa</div>
</div>
<div class="c" style="left:597px;top:406px;width:85px;height:22px;background:#ff8638">
<div class="d b" style="left:3.76px;top:6px;color:#571818">17</div>
<div class="d b" style="left:20.26px;top:6px;color:#571818">So</div>
</div>
<div class="c" style="left:597px;top:427px;width:85px;height:22px;background:#ff9999">
<div class="d" style="left:3.76px;top:6px;color:#6a2626">18</div>
<div class="d" style="left:20.26px;top:6px;color:#6a2626">Mo</div>
<div class="k" style="right:1.36px;top:6.9px;color:#902e60">34</div>
</div>
<div class="c" style="left:597px;top:448px;width:85px;height:22px;background:#ff9999">
<div class="d" style="left:3.76px;top:6px;color:#6a2626">19</div>
<div class="d" style="left:20.26px;top:6px;color:#6a2626">Di</div>
</div>
<div class="c" style="left:597px;top:469px;width:85px;height:22px;background:#ff9999">
<div class="d" style="left:3.76px;top:6px;color:#6a2626">20</div>
<div class="d" style="left:20.26px;top:6px;color:#6a2626">Mi</div>
</div>
<div class="c" style="left:597px;top:490px;width:85px;height:22px;background:#ff9999">
<div class="d" style="left:3.76px;top:6px;color:#6a2626">21</div>
<div class="d" style="left:20.26px;top:6px;color:#6a2626">Do</div>
</div>
<div class="c" style="left:597px;top:511px;width:85px;height:22px;background:#ff9999">
<div class="d" style="left:3.76px;top:6px;color:#6a2626">22</div>
<div class="d" style="left:20.26px;top:6px;color:#6a2626">Fr</div>
</div>
<div class="c" style="left:597px;top:532px;width:85px;height:22px;background:#fa9078">
<div class="d b" style="left:3.76px;top:6px;color:#571818">23</div>
<div class="d b" style="left:20.26px;top:6px;color:#571818">Sa</div>
</div>
<div class="c" style="left:597px;top:553px;width:85px;height:23px;background:#ff8638">
<div class="d b" style="left:3.76px;top:6px;color:#571818">24</div>
<div class="d b" style="left:20.26px;top:6px;color:#571818">So</div>
</div>
<div class="c" style="left:597px;top:575px;width:85px;height:22px;background:#ff9999">
<div class="d" style="left:3.76px;top:5px;color:#6a2626">25</div>
<div class="d" style="left:20.26px;top:5px;color:#6a2626">Mo</div>
<div class="k" style="right:1.36px;top:5.9px;color:#902e60">35</div>
</div>
<div class="c" style="left:597px;top:596px;width:85px;height:22px;background:#ff9999">
<div class="d" style="left:3.76px;top:5px;color:#6a2626">26</div>
<div class="d" style="left:20.26px;top:5px;color:#6a2626">Di</div>
</div>
<div class="c" style="left:597px;top:617px;width:85px;height:22px;background:#ff9999">
<div class="d" style="left:3.76px;top:6px;color:#6a2626">27</div>
<div class="d" style="left:20.26px;top:6px;color:#6a2626">Mi</div>
</div>
<div class="c" style="left:597px;top:638px;width:85px;height:22px;background:#ff9999">
<div class="d" style="left:3.76px;top:6px;color:#6a2626">28</div>
<div class="d" style="left:20.26px;top:6px;color:#6a2626">Do</div>
</div>
<div class="c" style="left:597px;top:659px;width:85px;height:22px;background:#ff9999">
<div class="d" style="left:3.76px;top:6px;color:#6a2626">29</div>
<div class="d" style="left:20.26px;top:6px;color:#6a2626">Fr</div>
</div>
<div class="c" style="left:597px;top:680px;width:85px;height:22px;background:#fa9078">
<div class="d b" style="left:3.76px;top:6px;color:#571818">30</div>
<div class="d b" style="left:20.26px;top:6px;color:#571818">Sa</div>
</div>
<div class="c" style="left:597px;top:701px;width:85px;height:22px;background:#ff8638">
<div class="d b" style="left:3.76px;top:6px;color:#571818">31</div>
<div class="d b" style="left:20.26px;top:6px;color:#571818">So</div>
</div>
<div class="c" style="left:682px;top:69px;width:86px;height:22px;background:#ff9999">
<div class="d" style="left:4.04px;top:6px;color:#6a2626">01</div>
<div class="d" style="left:20.54px;top:6px;color:#6a2626">Mo</div>
<div class="k" style="right:2.08px;top:6.9px;color:#902e60">36</div>
</div>
<div class="c" style="left:682px;top:90px;width:86px;height:22px;background:#ff9999">
<div class="d" style="left:4.04px;top:6px;color:#6a2626">02</div>
<div class="d" style="left:20.54px;top:6px;color:#6a2626">Di</div>
</div>
<div class="c" style="left:682px;top:111px;width:86px;height:22px;background:#ff9999">
<div class="d" style="left:4.04px;top:6px;color:#6a2626">03</div>
<div class="d" style="left:20.54px;top:6px;color:#6a2626">Mi</div>
</div>
<div class="c" style="left:682px;top:132px;width:86px;height:22px;background:#ff9999">
<div class="d" style="left:4.04px;top:6px;color:#6a2626">04</div>
<div class="d" style="left:20.54px;top:6px;color:#6a2626">Do</div>
</div>
<div class="c" style="left:682px;top:153px;width:86px;height:22px;background:#ff9999">
<div class="d" style="left:4.04px;top:6px;color:#6a2626">05</div>
<div class="d" style="left:20.54px;top:6px;color:#6a2626">Fr</div>
</div>
<div class="c" style="left:682px;top:174px;width:86px;height:22px;background:#fa9078">
<div class="d b" style="left:4.04px;top:6px;color:#571818">06</div>
<div class="d b" style="left:20.54px;top:6px;color:#571818">Sa</div>
</div>
<div class="c" style="left:682px;top:195px;width:86px;height:22px;background:#ff8638">
<div class="d b" style="left:4.04px;top:6px;color:#571818">07</div>
<div class="d b" style="left:20.54px;top:6px;color:#571818">So</div>
</div>
<div class="c" style="left:682px;top:216px;width:86px;height:22px;background:#ff9999">
<div class="d" style="left:4.04px;top:6px;color:#6a2626">08</div>
<div class="d" style="left:20.54px;top:6px;color:#6a2626">Mo</div>
<div class="k" style="right:2.08px;top:6.9px;color:#902e60">37</div>
</div>
<div class="c" style="left:682px;top:237px;width:86px;height:23px;background:#ff9999">
<div class="d" style="left:4.04px;top:6px;color:#6a2626">09</div>
<div class="d" style="left:20.54px;top:6px;color:#6a2626">Di</div>
</div>
<div class="c" style="left:682px;top:259px;width:86px;height:22px;background:#ff9999">
<div class="d" style="left:4.04px;top:5px;color:#6a2626">10</div>
<div class="d" style="left:20.54px;top:5px;color:#6a2626">Mi</div>
</div>
<div class="c" style="left:682px;top:280px;width:86px;height:22px;background:#ff9999">
<div class="d" style="left:4.04px;top:5px;color:#6a2626">11</div>
<div class="d" style="left:20.54px;top:5px;color:#6a2626">Do</div>
</div>
<div class="c" style="left:682px;top:301px;width:86px;height:22px;background:#ff9999">
<div class="d" style="left:4.04px;top:6px;color:#6a2626">12</div>
<div class="d" style="left:20.54px;top:6px;color:#6a2626">Fr</div>
</div>
<div class="c" style="left:682px;top:322px;width:86px;height:22px;background:#fa9078">
<div class="d b" style="left:4.04px;top:6px;color:#571818">13</div>
<div class="d b" style="left:20.54px;top:6px;color:#571818">Sa</div>
</div>
<div class="c" style="left:682px;top:343px;width:86px;height:22px;background:#ff8638">
<div class="d b" style="left:4.04px;top:6px;color:#571818">14</div>
<div class="d b" style="left:20.54px;top:6px;color:#571818">So</div>
</div>
<div class="c" style="left:682px;top:364px;width:86px;height:22px;background:#ff9999">
<div class="d" style="left:4.04px;top:6px;color:#6a2626">15</div>
<div class="d" style="left:20.54px;top:6px;color:#6a2626">Mo</div>
<div class="k" style="right:2.08px;top:6.9px;color:#902e60">38</div>
</div>
<div class="c" style="left:682px;top:385px;width:86px;height:22px;background:#ff9999">
<div class="d" style="left:4.04px;top:6px;color:#6a2626">16</div>
<div class="d" style="left:20.54px;top:6px;color:#6a2626">Di</div>
</div>
<div class="c" style="left:682px;top:406px;width:86px;height:22px;background:#ff9999">
<div class="d" style="left:4.04px;top:6px;color:#6a2626">17</div>
<div class="d" style="left:20.54px;top:6px;color:#6a2626">Mi</div>
</div>
<div class="c" style="left:682px;top:427px;width:86px;height:22px;background:#ff9999">
<div class="d" style="left:4.04px;top:6px;color:#6a2626">18</div>
<div class="d" style="left:20.54px;top:6px;color:#6a2626">Do</div>
</div>
<div class="c" style="left:682px;top:448px;width:86px;height:22px;background:#ff9999">
<div class="d" style="left:4.04px;top:6px;color:#6a2626">19</div>
<div class="d" style="left:20.54px;top:6px;color:#6a2626">Fr</div>
</div>
<div class="c" style="left:682px;top:469px;width:86px;height:22px;background:#fff378">
<div class="d b" style="left:4.04px;top:6px;color:#55551a">20</div>
<div class="d b" style="left:20.54px;top:6px;color:#55551a">Sa</div>
</div>
<div class="c" style="left:682px;top:490px;width:86px;height:22px;background:#ffe234">
<div class="d b" style="left:4.04px;top:6px;color:#55551a">21</div>
<div class="d b" style="left:20.54px;top:6px;color:#55551a">So</div>
</div>
<div class="c" style="left:682px;top:511px;width:86px;height:22px;background:#ffff99">
<div class="d" style="left:4.04px;top:6px;color:#66662a">22</div>
<div class="d" style="left:20.54px;top:6px;color:#66662a">Mo</div>
<div class="k" style="right:2.08px;top:6.9px;color:#8c8c55">39</div>
</div>
<div class="c" style="left:682px;top:532px;width:86px;height:22px;background:#ffff99">
<div class="d" style="left:4.04px;top:6px;color:#66662a">23</div>
<div class="d" style="left:20.54px;top:6px;color:#66662a">Di</div>
</div>
<div class="c" style="left:682px;top:553px;width:86px;height:23px;background:#ffff99">
<div class="d" style="left:4.04px;top:6px;color:#66662a">24</div>
<div class="d" style="left:20.54px;top:6px;color:#66662a">Mi</div>
</div>
<div class="c" style="left:682px;top:575px;width:86px;height:22px;background:#ffff99">
<div class="d" style="left:4.04px;top:5px;color:#66662a">25</div>
<div class="d" style="left:20.54px;top:5px;color:#66662a">Do</div>
</div>
<div class="c" style="left:682px;top:596px;width:86px;height:22px;background:#ffff99">
<div class="d" style="left:4.04px;top:5px;color:#66662a">26</div>
<div class="d" style="left:20.54px;top:5px;color:#66662a">Fr</div>
</div>
<div class="c" style="left:682px;top:617px;width:86px;height:22px;background:#fff378">
<div class="d b" style="left:4.04px;top:6px;color:#55551a">27</div>
<div class="d b" style="left:20.54px;top:6px;color:#55551a">Sa</div>
</div>
<div class="c" style="left:682px;top:638px;width:86px;height:22px;background:#ffe234">
<div class="d b" style="left:4.04px;top:6px;color:#55551a">28</div>
<div class="d b" style="left:20.54px;top:6px;color:#55551a">So</div>
</div>
<div class="c" style="left:682px;top:659px;width:86px;height:22px;background:#ffff99">
<div class="d" style="left:4.04px;top:6px;color:#66662a">29</div>
<div class="d" style="left:20.54px;top:6px;color:#66662a">Mo</div>
<div class="k" style="right:2.08px;top:6.9px;color:#8c8c55">40</div>
</div>
<div class="c" style="left:682px;top:680px;width:86px;height:22px;background:#ffff99">
<div class="d" style="left:4.04px;top:6px;color:#66662a">30</div>
<div class="d" style="left:20.54px;top:6px;color:#66662a">Di</div>
</div>
<div style="left:682px;top:701px;width:86px;height:22px;background:#e6e6e6"></div>
<div class="c" style="left:768px;top:69px;width:85px;height:22px;background:#ffff99">
<div class="d" style="left:3.32px;top:6px;color:#66662a">01</div>
<div class="d" style="left:19.82px;top:6px;color:#66662a">Mi</div>
</div>
<div class="c" style="left:768px;top:90px;width:85px;height:22px;background:#ffff99">
<div class="d" style="left:3.32px;top:6px;color:#66662a">02</div>
<div class="d" style="left:19.82px;top:6px;color:#66662a">Do</div>
</div>
<div class="c" style="left:768px;top:111px;width:85px;height:22px;background:#ffe186">
<div class="d b" style="left:3.32px;top:6px;color:#ff6619">03</div>
<div class="d b" style="left:19.82px;top:6px;color:#ff6619">Fr</div>
<div class="h" style="left:41.02px;top:3.5px;width:34px;color:#f57425">Tag d.<br>Einheit</div>
</div>
<div class="c" style="left:768px;top:132px;width:85px;height:22px;background:#fff378">
<div class="d b" style="left:3.32px;top:6px;color:#55551a">04</div>
<div class="d b" style="left:19.82px;top:6px;color:#55551a">Sa</div>
</div>
<div class="c" style="left:768px;top:153px;width:85px;height:22px;background:#ffe234">
<div class="d b" style="left:3.32px;top:6px;color:#55551a">05</div>
<div class="d b" style="left:19.82px;top:6px;color:#55551a">So</div>
</div>
<div class="c" style="left:768px;top:174px;width:85px;height:22px;background:#ffff99">
<div class="d" style="left:3.32px;top:6px;color:#66662a">06</div>
<div class="d" style="left:19.82px;top:6px;color:#66662a">Mo</div>
<div class="k" style="right:1.80px;top:6.9px;color:#8c8c55">41</div>
</div>
<div class="c" style="left:768px;top:195px;width:85px;height:22px;background:#ffff99">
<div class="d" style="left:3.32px;top:6px;color:#66662a">07</div>
<div class="d" style="left:19.82px;top:6px;color:#66662a">Di</div>
</div>
<div class="c" style="left:768px;top:216px;width:85px;height:22px;background:#ffff99">
<div class="d" style="left:3.32px;top:6px;color:#66662a">08</div>
<div class="d" style="left:19.82px;top:6px;color:#66662a">Mi</div>
</div>
<div class="c" style="left:768px;top:237px;width:85px;height:23px;background:#ffff99">
<div class="d" style="left:3.32px;top:6px;color:#66662a">09</div>
<div class="d" style="left:19.82px;top:6px;color:#66662a">Do</div>
</div>
<div class="c" style="left:768px;top:259px;width:85px;height:22px;background:#ffff99">
<div class="d" style="left:3.32px;top:5px;color:#66662a">10</div>
<div class="d" style="left:19.82px;top:5px;color:#66662a">Fr</div>
</div>
<div class="c" style="left:768px;top:280px;width:85px;height:22px;background:#fff378">
<div class="d b" style="left:3.32px;top:5px;color:#55551a">11</div>
<div class="d b" style="left:19.82px;top:5px;color:#55551a">Sa</div>
</div>
<div class="c" style="left:768px;top:301px;width:85px;height:22px;background:#ffe234">
<div class="d b" style="left:3.32px;top:6px;color:#55551a">12</div>
<div class="d b" style="left:19.82px;top:6px;color:#55551a">So</div>
</div>
<div class="c" style="left:768px;top:322px;width:85px;height:22px;background:#ffff99">
<div class="d" style="left:3.32px;top:6px;color:#66662a">13</div>
<div class="d" style="left:19.82px;top:6px;color:#66662a">Mo</div>
<div class="k" style="right:1.80px;top:6.9px;color:#8c8c55">42</div>
</div>
<div class="c" style="left:768px;top:343px;width:85px;height:22px;background:#ffff99">
<div class="d" style="left:3.32px;top:6px;color:#66662a">14</div>
<div class="d" style="left:19.82px;top:6px;color:#66662a">Di</div>
</div>
<div class="c" style="left:768px;top:364px;width:85px;height:22px;background:#ffff99">
<div class="d" style="left:3.32px;top:6px;color:#66662a">15</div>
<div class="d" style="left:19.82px;top:6px;color:#66662a">Mi</div>
</div>
<div class="c" style="left:768px;top:385px;width:85px;height:22px;background:#ffff99">
<div class="d" style="left:3.32px;top:6px;color:#66662a">16</div>
<div class="d" style="left:19.82px;top:6px;color:#66662a">Do</div>
</div>
<div class="c" style="left:768px;top:406px;width:85px;height:22px;background:#ffff99">
<div class="d" style="left:3.32px;top:6px;color:#66662a">17</div>
<div class="d" style="left:19.82px;top:6px;color:#66662a">Fr</div>
</div>
<div class="c" style="left:768px;top:427px;width:85px;height:22px;background:#fff378">
<div class="d b" style="left:3.32px;top:6px;color:#55551a">18</div>
<div class="d b" style="left:19.82px;top:6px;color:#55551a">Sa</div>
</div>
<div class="c" style="left:768px;top:448px;width:85px;height:22px;background:#ffe234">
<div class="d b" style="left:3.32px;top:6px;color:#55551a">19</div>
<div class="d b" style="left:19.82px;top:6px;color:#55551a">So</div>
</div>
<div class="c" style="left:768px;top:469px;width:85px;height:22px;background:#ffff99">
<div class="d" style="left:3.32px;top:6px;color:#66662a">20</div>
<div class="d" style="left:19.82px;top:6px;color:#66662a">Mo</div>
<div class="k" style="right:1.80px;top:6.9px;color:#8c8c55">43</div>
</div>
<div class="c" style="left:768px;top:490px;width:85px;height:22px;background:#ffff99">
<div class="d" style="left:3.32px;top:6px;color:#66662a">21</div>
<div class="d" style="left:19.82px;top:6px;color:#66662a">Di</div>
</div>
<div class="c" style="left:768px;top:511px;width:85px;height:22px;background:#ffff99">
<div class="d" style="left:3.32px;top:6px;color:#66662a">22</div>
<div class="d" style="left:19.82px;top:6px;color:#66662a">Mi</div>
</div>
<div class="c" style="left:768px;top:532px;width:85px;height:22px;background:#ffff99">
<div class="d" style="left:3.32px;top:6px;color:#66662a">23</div>
<div class="d" style="left:19.82px;top:6px;color:#66662a">Do</div>
</div>
<div class="c" style="left:768px;top:553px;width:85px;height:23px;background:#ffff99">
<div class="d" style="left:3.32px;top:6px;color:#66662a">24</div>
<div class="d" style="left:19.82px;top:6px;color:#66662a">Fr</div>
</div>
<div class="c" style="left:768px;top:575px;width:85px;height:22px;background:#fff378">
<div class="d b" style="left:3.32px;top:5px;color:#55551a">25</div>
<div class="d b" style="left:19.82px;top:5px;color:#55551a">Sa</div>
</div>
<div class="c" style="left:768px;top:596px;width:85px;height:22px;background:#ffe234">
<div class="d b" style="left:3.32px;top:5px;color:#55551a">26</div>
<div class="d b" style="left:19.82px;top:5px;color:#55551a">So</div>
</div>
<div class="c" style="left:768px;top:617px;width:85px;height:22px;background:#ffff99">
<div class="d" style="left:3.32px;top:6px;color:#66662a">27</div>
<div class="d" style="left:19.82px;top:6px;color:#66662a">Mo</div>
<div class="k" style="right:1.80px;top:6.9px;color:#8c8c55">44</div>
</div>
<div class="c" style="left:768px;top:638px;width:85px;height:22px;background:#ffff99">
<div class="d" style="left:3.32px;top:6px;color:#66662a">28</div>
<div class="d" style="left:19.82px;top:6px;color:#66662a">Di</div>
</div>
<div class="c" style="left:768px;top:659px;width:85px;height:22px;background:#ffff99">
<div class="d" style="left:3.32px;top:6px;color:#66662a">29</div>
<div class="d" style="left:19.82px;top:6px;color:#66662a">Mi</div>
</div>
<div class="c" style="left:768px;top:680px;width:85px;height:22px;background:#ffff99">
<div class="d" style="left:3.32px;top:6px;color:#66662a">30</div>
<div class="d" style="left:19.82px;top:6px;color:#66662a">Do</div>
</div>
<div class="c" style="left:768px;top:701px;width:85px;height:22px;background:#ffff99">
<div class="d" style="left:3.32px;top:6px;color:#66662a">31</div>
<div class="d" style="left:19.82px;top:6px;color:#66662a">Fr</div>
</div>
<div class="c" style="left:853px;top:69px;width:85px;height:22px;background:#9ec3a4">
<div class="d b" style="left:3.60px;top:6px;color:#aa462c">01</div>
<div class="d b" style="left:20.10px;top:6px;color:#aa462c">Sa</div>
<div class="h" style="left:41.30px;top:3.4px;width:34px;color:#a65a3e">Allerheili<br>gen</div>
</div>
<div class="c" style="left:853px;top:90px;width:85px;height:22px;background:#9bc957">
<div class="d b" style="left:3.60px;top:6px;color:#14562b">02</div>
<div class="d b" style="left:20.10px;top:6px;color:#14562b">So</div>
</div>
<div class="c" style="left:853px;top:111px;width:85px;height:22px;background:#98dcb9">
<div class="d" style="left:3.60px;top:6px;color:#1a6840">03</div>
<div class="d" style="left:20.10px;top:6px;color:#1a6840">Mo</div>
<div class="k" style="right:1.52px;top:6.9px;color:#2a6f70">45</div>
</div>
<div class="c" style="left:853px;top:132px;width:85px;height:22px;background:#98dcb9">
<div class="d" style="left:3.60px;top:6px;color:#1a6840">04</div>
<div class="d" style="left:20.10px;top:6px;color:#1a6840">Di</div>
</div>
<div class="c" style="left:853px;top:153px;width:85px;height:22px;background:#98dcb9">
<div class="d" style="left:3.60px;top:6px;color:#1a6840">05</div>
<div class="d" style="left:20.10px;top:6px;color:#1a6840">Mi</div>
</div>
<div class="c" style="left:853px;top:174px;width:85px;height:22px;background:#98dcb9">
<div class="d" style="left:3.60px;top:6px;color:#1a6840">06</div>
<div class="d" style="left:20.10px;top:6px;color:#1a6840">Do</div>
</div>
<div class="c" style="left:853px;top:195px;width:85px;height:22px;background:#98dcb9">
<div class="d" style="left:3.60px;top:6px;color:#1a6840">07</div>
<div class="d" style="left:20.10px;top:6px;color:#1a6840">Fr</div>
</div>
<div class="c" style="left:853px;top:216px;width:85px;height:22px;background:#9dd79b">
<div class="d b" style="left:3.60px;top:6px;color:#14562b">08</div>
<div class="d b" style="left:20.10px;top:6px;color:#14562b">Sa</div>
</div>
<div class="c" style="left:853px;top:237px;width:85px;height:23px;background:#9bc957">
<div class="d b" style="left:3.60px;top:6px;color:#14562b">09</div>
<div class="d b" style="left:20.10px;top:6px;color:#14562b">So</div>
</div>
<div class="c" style="left:853px;top:259px;width:85px;height:22px;background:#98dcb9">
<div class="d" style="left:3.60px;top:5px;color:#1a6840">10</div>
<div class="d" style="left:20.10px;top:5px;color:#1a6840">Mo</div>
<div class="k" style="right:1.52px;top:5.9px;color:#2a6f70">46</div>
</div>
<div class="c" style="left:853px;top:280px;width:85px;height:22px;background:#98dcb9">
<div class="d" style="left:3.60px;top:5px;color:#1a6840">11</div>
<div class="d" style="left:20.10px;top:5px;color:#1a6840">Di</div>
</div>
<div class="c" style="left:853px;top:301px;width:85px;height:22px;background:#98dcb9">
<div class="d" style="left:3.60px;top:6px;color:#1a6840">12</div>
<div class="d" style="left:20.10px;top:6px;color:#1a6840">Mi</div>
</div>
<div class="c" style="left:853px;top:322px;width:85px;height:22px;background:#98dcb9">
<div class="d" style="left:3.60px;top:6px;color:#1a6840">13</div>
<div class="d" style="left:20.10px;top:6px;color:#1a6840">Do</div>
</div>
<div class="c" style="left:853px;top:343px;width:85px;height:22px;background:#98dcb9">
<div class="d" style="left:3.60px;top:6px;color:#1a6840">14</div>
<div class="d" style="left:20.10px;top:6px;color:#1a6840">Fr</div>
</div>
<div class="c" style="left:853px;top:364px;width:85px;height:22px;background:#9dd79b">
<div class="d b" style="left:3.60px;top:6px;color:#14562b">15</div>
<div class="d b" style="left:20.10px;top:6px;color:#14562b">Sa</div>
</div>
<div class="c" style="left:853px;top:385px;width:85px;height:22px;background:#9bc957">
<div class="d b" style="left:3.60px;top:6px;color:#14562b">16</div>
<div class="d b" style="left:20.10px;top:6px;color:#14562b">So</div>
</div>
<div class="c" style="left:853px;top:406px;width:85px;height:22px;background:#98dcb9">
<div class="d" style="left:3.60px;top:6px;color:#1a6840">17</div>
<div class="d" style="left:20.10px;top:6px;color:#1a6840">Mo</div>
<div class="k" style="right:1.52px;top:6.9px;color:#2a6f70">47</div>
</div>
<div class="c" style="left:853px;top:427px;width:85px;height:22px;background:#98dcb9">
<div class="d" style="left:3.60px;top:6px;color:#1a6840">18</div>
<div class="d" style="left:20.10px;top:6px;color:#1a6840">Di</div>
</div>
<div class="c" style="left:853px;top:448px;width:85px;height:22px;background:#98dcb9">
<div class="d" style="left:3.60px;top:6px;color:#1a6840">19</div>
<div class="d" style="left:20.10px;top:6px;color:#1a6840">Mi</div>
</div>
<div class="c" style="left:853px;top:469px;width:85px;height:22px;background:#98dcb9">
<div class="d" style="left:3.60px;top:6px;color:#1a6840">20</div>
<div class="d" style="left:20.10px;top:6px;color:#1a6840">Do</div>
</div>
<div class="c" style="left:853px;top:490px;width:85px;height:22px;background:#98dcb9">
<div class="d" style="left:3.60px;top:6px;color:#1a6840">21</div>
<div class="d" style="left:20.10px;top:6px;color:#1a6840">Fr</div>
</div>
<div class="c" style="left:853px;top:511px;width:85px;height:22px;background:#9dd79b">
<div class="d b" style="left:3.60px;top:6px;color:#14562b">22</div>
<div class="d b" style="left:20.10px;top:6px;color:#14562b">Sa</div>
</div>
<div class="c" style="left:853px;top:532px;width:85px;height:22px;background:#9bc957">
<div class="d b" style="left:3.60px;top:6px;color:#14562b">23</div>
<div class="d b" style="left:20.10px;top:6px;color:#14562b">So</div>
</div>
<div class="c" style="left:853px;top:553px;width:85px;height:23px;background:#98dcb9">
<div class="d" style="left:3.60px;top:6px;color:#1a6840">24</div>
<div class="d" style="left:20.10px;top:6px;color:#1a6840">Mo</div>
<div class="k" style="right:1.52px;top:6.9px;color:#2a6f70">48</div>
</div>
<div class="c" style="left:853px;top:575px;width:85px;height:22px;background:#98dcb9">
<div class="d" style="left:3.60px;top:5px;color:#1a6840">25</div>
<div class="d" style="left:20.10px;top:5px;color:#1a6840">Di</div>
</div>
<div class="c" style="left:853px;top:596px;width:85px;height:22px;background:#98dcb9">
<div class="d" style="left:3.60px;top:5px;color:#1a6840">26</div>
<div class="d" style="left:20.10px;top:5px;color:#1a6840">Mi</div>
</div>
<div class="c" style="left:853px;top:617px;width:85px;height:22px;background:#98dcb9">
<div class="d" style="left:3.60px;top:6px;color:#1a6840">27</div>
<div class="d" style="left:20.10px;top:6px;color:#1a6840">Do</div>
</div>
<div class="c" style="left:853px;top:638px;width:85px;height:22px;background:#98dcb9">
<div class="d" style="left:3.60px;top:6px;color:#1a6840">28</div>
<div class="d" style="left:20.10px;top:6px;color:#1a6840">Fr</div>
</div>
<div class="c" style="left:853px;top:659px;width:85px;height:22px;background:#9dd79b">
<div class="d b" style="left:3.60px;top:6px;color:#14562b">29</div>
<div class="d b" style="left:20.10px;top:6px;color:#14562b">Sa</div>
</div>
<div class="c" style="left:853px;top:680px;width:85px;height:22px;background:#9bc957">
<div class="d b" style="left:3.60px;top:6px;color:#14562b">30</div>
<div class="d b" style="left:20.10px;top:6px;color:#14562b">So</div>
</div>
<div style="left:853px;top:701px;width:85px;height:22px;background:#e6e6e6"></div>
<div class="c" style="left:938px;top:69px;width:85px;height:22px;background:#98dcb9">
<div class="d" style="left:3.88px;top:6px;color:#1a6840">01</div>
<div class="d" style="left:20.38px;top:6px;color:#1a6840">Mo</div>
<div class="k" style="right:1.24px;top:6.9px;color:#2a6f70">49</div>
</div>
<div class="c" style="left:938px;top:90px;width:85px;height:22px;background:#98dcb9">
<div class="d" style="left:3.88px;top:6px;color:#1a6840">02</div>
<div class="d" style="left:20.38px;top:6px;color:#1a6840">Di</div>
</div>
<div class="c" style="left:938px;top:111px;width:85px;height:22px;background:#98dcb9">
<div class="d" style="left:3.88px;top:6px;color:#1a6840">03</div>
<div class="d" style="left:20.38px;top:6px;color:#1a6840">Mi</div>
</div>
<div class="c" style="left:938px;top:132px;width:85px;height:22px;background:#98dcb9">
<div class="d" style="left:3.88px;top:6px;color:#1a6840">04</div>
<div class="d" style="left:20.38px;top:6px;color:#1a6840">Do</div>
</div>
<div class="c" style="left:938px;top:153px;width:85px;height:22px;background:#98dcb9">
<div class="d" style="left:3.88px;top:6px;color:#1a6840">05</div>
<div class="d" style="left:20.38px;top:6px;color:#1a6840">Fr</div>
</div>
<div class="c" style="left:938px;top:174px;width:85px;height:22px;background:#9dd79b">
<div class="d b" style="left:3.88px;top:6px;color:#14562b">06</div>
<div class="d b" style="left:20.38px;top:6px;color:#14562b">Sa</div>
</div>
<div class="c" style="left:938px;top:195px;width:85px;height:22px;background:#9bc957">
<div class="d b" style="left:3.88px;top:6px;color:#14562b">07</div>
<div class="d b" style="left:20.38px;top:6px;color:#14562b">So</div>
</div>
<div class="c" style="left:938px;top:216px;width:85px;height:22px;background:#98dcb9">
<div class="d" style="left:3.88px;top:6px;color:#1a6840">08</div>
<div class="d" style="left:20.38px;top:6px;color:#1a6840">Mo</div>
<div class="k" style="right:1.24px;top:6.9px;color:#2a6f70">50</div>
</div>
<div class="c" style="left:938px;top:237px;width:85px;height:23px;background:#98dcb9">
<div class="d" style="left:3.88px;top:6px;color:#1a6840">09</div>
<div class="d" style="left:20.38px;top:6px;color:#1a6840">Di</div>
</div>
<div class="c" style="left:938px;top:259px;width:85px;height:22px;background:#98dcb9">
<div class="d" style="left:3.88px;top:5px;color:#1a6840">10</div>
<div class="d" style="left:20.38px;top:5px;color:#1a6840">Mi</div>
</div>
<div class="c" style="left:938px;top:280px;width:85px;height:22px;background:#98dcb9">
<div class="d" style="left:3.88px;top:5px;color:#1a6840">11</div>
<div class="d" style="left:20.38px;top:5px;color:#1a6840">Do</div>
</div>
<div class="c" style="left:938px;top:301px;width:85px;height:22px;background:#98dcb9">
<div class="d" style="left:3.88px;top:6px;color:#1a6840">12</div>
<div class="d" style="left:20.38px;top:6px;color:#1a6840">Fr</div>
</div>
<div class="c" style="left:938px;top:322px;width:85px;height:22px;background:#9dd79b">
<div class="d b" style="left:3.88px;top:6px;color:#14562b">13</div>
<div class="d b" style="left:20.38px;top:6px;color:#14562b">Sa</div>
</div>
<div class="c" style="left:938px;top:343px;width:85px;height:22px;background:#9bc957">
<div class="d b" style="left:3.88px;top:6px;color:#14562b">14</div>
<div class="d b" style="left:20.38px;top:6px;color:#14562b">So</div>
</div>
<div class="c" style="left:938px;top:364px;width:85px;height:22px;background:#98dcb9">
<div class="d" style="left:3.88px;top:6px;color:#1a6840">15</div>
<div class="d" style="left:20.38px;top:6px;color:#1a6840">Mo</div>
<div class="k" style="right:1.24px;top:6.9px;color:#2a6f70">51</div>
</div>
<div class="c" style="left:938px;top:385px;width:85px;height:22px;background:#98dcb9">
<div class="d" style="left:3.88px;top:6px;color:#1a6840">16</div>
<div class="d" style="left:20.38px;top:6px;color:#1a6840">Di</div>
</div>
<div class="c" style="left:938px;top:406px;width:85px;height:22px;background:#98dcb9">
<div class="d" style="left:3.88px;top:6px;color:#1a6840">17</div>
<div class="d" style="left:20.38px;top:6px;color:#1a6840">Mi</div>
</div>
<div class="c" style="left:938px;top:427px;width:85px;height:22px;background:#98dcb9">
<div class="d" style="left:3.88px;top:6px;color:#1a6840">18</div>
<div class="d" style="left:20.38px;top:6px;color:#1a6840">Do</div>
</div>
<div class="c" style="left:938px;top:448px;width:85px;height:22px;background:#98dcb9">
<div class="d" style="left:3.88px;top:6px;color:#1a6840">19</div>
<div class="d" style="left:20.38px;top:6px;color:#1a6840">Fr</div>
</div>
<div class="c" style="left:938px;top:469px;width:85px;height:22px;background:#9dd79b">
<div class="d b" style="left:3.88px;top:6px;color:#14562b">20</div>
<div class="d b" style="left:20.38px;top:6px;color:#14562b">Sa</div>
</div>
<div class="c" style="left:938px;top:490px;width:85px;height:22px;background:#9bc957">
<div class="d b" style="left:3.88px;top:6px;color:#14562b">21</div>
<div class="d b" style="left:20.38px;top:6px;color:#14562b">So</div>
</div>
<div class="c" style="left:938px;top:511px;width:85px;height:22px;background:#98dcb9">
<div class="d" style="left:3.88px;top:6px;color:#1a6840">22</div>
<div class="d" style="left:20.38px;top:6px;color:#1a6840">Mo</div>
<div class="k" style="right:1.24px;top:6.9px;color:#2a6f70">52</div>
</div>
<div class="c" style="left:938px;top:532px;width:85px;height:22px;background:#98dcb9">
<div class="d" style="left:3.88px;top:6px;color:#1a6840">23</div>
<div class="d" style="left:20.38px;top:6px;color:#1a6840">Di</div>
</div>
<div class="c" style="left:938px;top:553px;width:85px;height:23px;background:#98dcb9">
<div class="d" style="left:3.88px;top:6px;color:#1a6840">24</div>
<div class="d" style="left:20.38px;top:6px;color:#1a6840">Mi</div>
</div>
<div class="c" style="left:938px;top:575px;width:85px;height:22px;background:#9ec3a4">
<div class="d b" style="left:3.88px;top:5px;color:#aa462c">25</div>
<div class="d b" style="left:20.38px;top:5px;color:#aa462c">Do</div>
<div class="h" style="left:41.58px;top:3.0px;width:34px;color:#a65a3e">1. Weih-<br>nachtst</div>
</div>
<div class="c" style="left:938px;top:596px;width:85px;height:22px;background:#9ec3a4">
<div class="d b" style="left:3.88px;top:5px;color:#aa462c">26</div>
<div class="d b" style="left:20.38px;top:5px;color:#aa462c">Fr</div>
<div class="h" style="left:41.58px;top:3.1px;width:34px;color:#a65a3e">2. Weih-<br>nachtst</div>
</div>
<div class="c" style="left:938px;top:617px;width:85px;height:22px;background:#9dd79b">
<div class="d b" style="left:3.88px;top:6px;color:#14562b">27</div>
<div class="d b" style="left:20.38px;top:6px;color:#14562b">Sa</div>
</div>
<div class="c" style="left:938px;top:638px;width:85px;height:22px;background:#9bc957">
<div class="d b" style="left:3.88px;top:6px;color:#14562b">28</div>
<div class="d b" style="left:20.38px;top:6px;color:#14562b">So</div>
</div>
<div class="c" style="left:938px;top:659px;width:85px;height:22px;background:#98dcb9">
<div class="d" style="left:3.88px;top:6px;color:#1a6840">29</div>
<div class="d" style="left:20.38px;top:6px;color:#1a6840">Mo</div>
<div class="k" style="right:1.24px;top:6.9px;color:#2a6f70">1</div>
</div>
<div class="c" style="left:938px;top:680px;width:85px;height:22px;background:#98dcb9">
<div class="d" style="left:3.88px;top:6px;color:#1a6840">30</div>
<div class="d" style="left:20.38px;top:6px;color:#1a6840">Di</div>
</div>
<div class="c" style="left:938px;top:701px;width:85px;height:22px;background:#98dcb9">
<div class="d" style="left:3.88px;top:6px;color:#1a6840">31</div>
<div class="d" style="left:20.38px;top:6px;color:#1a6840">Mi</div>
</div>
<svg width="1024" height="723" viewBox="0 0 1024 723"><rect x="0" y="45" width="1024" height="1" fill="#666"/><rect x="84.78" y="45" width="1" height="24" fill="#999"/><rect x="170.06" y="45" width="1" height="24" fill="#999"/><rect x="255.34" y="45" width="1" height="24" fill="#999"/><rect x="340.62" y="45" width="1" height="24" fill="#999"/><rect x="425.90" y="45" width="1" height="24" fill="#999"/><rect x="511.18" y="45" width="1" height="24" fill="#999"/><rect x="596.46" y="45" width="1" height="24" fill="#999"/><rect x="681.74" y="45" width="1" height="24" fill="#999"/><rect x="767.02" y="45" width="1" height="24" fill="#999"/><rect x="852.30" y="45" width="1" height="24" fill="#999"/><rect x="937.58" y="45" width="1" height="24" fill="#999"/><rect x="1022.86" y="45" width="1" height="24" fill="#999"/><rect x="0" y="69.40" width="1" height="653.60" fill="rgba(255,255,255,0.35)"/><rect x="0.00" y="89.967" width="85.28" height="1.05" fill="#4f8a68"/><rect x="0.00" y="111.034" width="85.28" height="1.05" fill="#4f8a68"/><rect x="0.00" y="132.101" width="85.28" height="1.05" fill="#4f8a68"/><rect x="0.00" y="153.168" width="85.28" height="1.05" fill="#4f8a68"/><rect x="0.00" y="174.235" width="85.28" height="1.05" fill="#4f8a68"/><rect x="0.00" y="195.302" width="85.28" height="1.05" fill="#4f8a68"/><rect x="0.00" y="216.369" width="85.28" height="1.05" fill="#4f8a68"/><rect x="0.00" y="237.436" width="85.28" height="1.05" fill="#4f8a68"/><rect x="0.00" y="258.503" width="85.28" height="1.05" fill="#4f8a68"/><rect x="0.00" y="279.570" width="85.28" height="1.05" fill="#4f8a68"/><rect x="0.00" y="300.637" width="85.28" height="1.05" fill="#4f8a68"/><rect x="0.00" y="321.704" width="85.28" height="1.05" fill="#4f8a68"/><rect x="0.00" y="342.771" width="85.28" height="1.05" fill="#4f8a68"/><rect x="0.00" y="363.838" width="85.28" height="1.05" fill="#4f8a68"/><rect x="0.00" y="384.905" width="85.28" height="1.05" fill="#4f8a68"/><rect x="0.00" y="405.972" width="85.28" height="1.05" fill="#4f8a68"/><rect x="0.00" y="427.039" width="85.28" height="1.05" fill="#4f8a68"/><rect x="0.00" y="448.106" width="85.28" height="1.05" fill="#4f8a68"/><rect x="0.00" y="469.173" width="85.28" height="1.05" fill="#4f8a68"/><rect x="0.00" y="490.240" width="85.28" height="1.05" fill="#4f8a68"/><rect x="0.00" y="511.307" width="85.28" height="1.05" fill="#4f8a68"/><rect x="0.00" y="532.374" width="85.28" height="1.05" fill="#4f8a68"/><rect x="0.00" y="553.441" width="85.28" height="1.05" fill="#4f8a68"/><rect x="0.00" y="574.508" width="85.28" height="1.05" fill="#4f8a68"/><rect x="0.00" y="595.575" width="85.28" height="1.05" fill="#4f8a68"/><rect x="0.00" y="616.642" width="85.28" height="1.05" fill="#4f8a68"/><rect x="0.00" y="637.709" width="85.28" height="1.05" fill="#4f8a68"/><rect x="0.00" y="658.776" width="85.28" height="1.05" fill="#4f8a68"/><rect x="0.00" y="679.843" width="85.28" height="1.05" fill="#4f8a68"/><rect x="0.00" y="700.910" width="85.28" height="1.05" fill="#4f8a68"/><rect x="85.28" y="89.967" width="85.28" height="1.05" fill="#4f8a68"/><rect x="85.28" y="111.034" width="85.28" height="1.05" fill="#4f8a68"/><rect x="85.28" y="132.101" width="85.28" height="1.05" fill="#4f8a68"/><rect x="85.28" y="153.168" width="85.28" height="1.05" fill="#4f8a68"/><rect x="85.28" y="174.235" width="85.28" height="1.05" fill="#4f8a68"/><rect x="85.28" y="195.302" width="85.28" height="1.05" fill="#4f8a68"/><rect x="85.28" y="216.369" width="85.28" height="1.05" fill="#4f8a68"/><rect x="85.28" y="237.436" width="85.28" height="1.05" fill="#4f8a68"/><rect x="85.28" y="258.503" width="85.28" height="1.05" fill="#4f8a68"/><rect x="85.28" y="279.570" width="85.28" height="1.05" fill="#4f8a68"/><rect x="85.28" y="300.637" width="85.28" height="1.05" fill="#4f8a68"/><rect x="85.28" y="321.704" width="85.28" height="1.05" fill="#4f8a68"/><rect x="85.28" y="342.771" width="85.28" height="1.05" fill="#4f8a68"/><rect x="85.28" y="363.838" width="85.28" height="1.05" fill="#4f8a68"/><rect x="85.28" y="384.905" width="85.28" height="1.05" fill="#4f8a68"/><rect x="85.28" y="405.972" width="85.28" height="1.05" fill="#4f8a68"/><rect x="85.28" y="427.039" width="85.28" height="1.05" fill="#4f8a68"/><rect x="85.28" y="448.106" width="85.28" height="1.05" fill="#4f8a68"/><rect x="85.28" y="469.173" width="85.28" height="1.05" fill="#4f8a68"/><rect x="85.28" y="490.240" width="85.28" height="1.05" fill="#4f8a68"/><rect x="85.28" y="511.307" width="85.28" height="1.05" fill="#4f8a68"/><rect x="85.28" y="532.374" width="85.28" height="1.05" fill="#4f8a68"/><rect x="85.28" y="553.441" width="85.28" height="1.05" fill="#4f8a68"/><rect x="85.28" y="574.508" width="85.28" height="1.05" fill="#4f8a68"/><rect x="85.28" y="595.575" width="85.28" height="1.05" fill="#4f8a68"/><rect x="85.28" y="616.642" width="85.28" height="1.05" fill="#4f8a68"/><rect x="85.28" y="637.709" width="85.28" height="1.05" fill="#4f8a68"/><rect x="85.28" y="658.776" width="85.28" height="1.05" fill="#333"/><rect x="85.28" y="679.843" width="85.28" height="1.05" fill="#555"/><rect x="85.28" y="700.910" width="85.28" height="1.05" fill="#555"/><rect x="170.56" y="89.967" width="85.28" height="1.05" fill="#4f8a68"/><rect x="170.56" y="111.034" width="85.28" height="1.05" fill="#4f8a68"/><rect x="170.56" y="132.101" width="85.28" height="1.05" fill="#4f8a68"/><rect x="170.56" y="153.168" width="85.28" height="1.05" fill="#4f8a68"/><rect x="170.56" y="174.235" width="85.28" height="1.05" fill="#4f8a68"/><rect x="170.56" y="195.302" width="85.28" height="1.05" fill="#4f8a68"/><rect x="170.56" y="216.369" width="85.28" height="1.05" fill="#4f8a68"/><rect x="170.56" y="237.436" width="85.28" height="1.05" fill="#4f8a68"/><rect x="170.56" y="258.503" width="85.28" height="1.05" fill="#4f8a68"/><rect x="170.56" y="279.570" width="85.28" height="1.05" fill="#4f8a68"/><rect x="170.56" y="300.637" width="85.28" height="1.05" fill="#4f8a68"/><rect x="170.56" y="321.704" width="85.28" height="1.05" fill="#4f8a68"/><rect x="170.56" y="342.771" width="85.28" height="1.05" fill="#4f8a68"/><rect x="170.56" y="363.838" width="85.28" height="1.05" fill="#4f8a68"/><rect x="170.56" y="384.905" width="85.28" height="1.05" fill="#4f8a68"/><rect x="170.56" y="405.972" width="85.28" height="1.05" fill="#4f8a68"/><rect x="170.56" y="427.039" width="85.28" height="1.05" fill="#4f8a68"/><rect x="170.56" y="448.106" width="85.28" height="1.05" fill="#4f8a68"/><rect x="170.56" y="469.173" width="85.28" height="1.05" fill="#4f8a68"/><rect x="170.56" y="490.240" width="85.28" height="1.05" fill="#4f8a68"/><rect x="170.56" y="511.307" width="85.28" height="1.05" fill="#4f8a68"/><rect x="170.56" y="532.374" width="85.28" height="1.05" fill="#4f8a68"/><rect x="170.56" y="553.441" width="85.28" height="1.05" fill="#4f8a68"/><rect x="170.56" y="574.508" width="85.28" height="1.05" fill="#4f8a68"/><rect x="170.56" y="595.575" width="85.28" height="1.05" fill="#4f8a68"/><rect x="170.56" y="616.642" width="85.28" height="1.05" fill="#4f8a68"/><rect x="170.56" y="637.709" width="85.28" height="1.05" fill="#4f8a68"/><rect x="170.56" y="658.776" width="85.28" height="1.05" fill="#4f8a68"/><rect x="170.56" y="679.843" width="85.28" height="1.05" fill="#4f8a68"/><rect x="170.56" y="700.910" width="85.28" height="1.05" fill="#4f8a68"/><rect x="255.84" y="89.967" width="85.28" height="1.05" fill="#4f8a68"/><rect x="255.84" y="111.034" width="85.28" height="1.05" fill="#4f8a68"/><rect x="255.84" y="132.101" width="85.28" height="1.05" fill="#4f8a68"/><rect x="255.84" y="153.168" width="85.28" height="1.05" fill="#333"/><rect x="255.84" y="174.235" width="85.28" height="1.05" fill="#b8b855"/><rect x="255.84" y="195.302" width="85.28" height="1.05" fill="#b8b855"/><rect x="255.84" y="216.369" width="85.28" height="1.05" fill="#b8b855"/><rect x="255.84" y="237.436" width="85.28" height="1.05" fill="#b8b855"/><rect x="255.84" y="258.503" width="85.28" height="1.05" fill="#b8b855"/><rect x="255.84" y="279.570" width="85.28" height="1.05" fill="#b8b855"/><rect x="255.84" y="300.637" width="85.28" height="1.05" fill="#b8b855"/><rect x="255.84" y="321.704" width="85.28" height="1.05" fill="#b8b855"/><rect x="255.84" y="342.771" width="85.28" height="1.05" fill="#b8b855"/><rect x="255.84" y="363.838" width="85.28" height="1.05" fill="#b8b855"/><rect x="255.84" y="384.905" width="85.28" height="1.05" fill="#b8b855"/><rect x="255.84" y="405.972" width="85.28" height="1.05" fill="#b8b855"/><rect x="255.84" y="427.039" width="85.28" height="1.05" fill="#b8b855"/><rect x="255.84" y="448.106" width="85.28" height="1.05" fill="#b8b855"/><rect x="255.84" y="469.173" width="85.28" height="1.05" fill="#b8b855"/><rect x="255.84" y="490.240" width="85.28" height="1.05" fill="#b8b855"/><rect x="255.84" y="511.307" width="85.28" height="1.05" fill="#b8b855"/><rect x="255.84" y="532.374" width="85.28" height="1.05" fill="#b8b855"/><rect x="255.84" y="553.441" width="85.28" height="1.05" fill="#b8b855"/><rect x="255.84" y="574.508" width="85.28" height="1.05" fill="#b8b855"/><rect x="255.84" y="595.575" width="85.28" height="1.05" fill="#b8b855"/><rect x="255.84" y="616.642" width="85.28" height="1.05" fill="#b8b855"/><rect x="255.84" y="637.709" width="85.28" height="1.05" fill="#b8b855"/><rect x="255.84" y="658.776" width="85.28" height="1.05" fill="#b8b855"/><rect x="255.84" y="679.843" width="85.28" height="1.05" fill="#b8b855"/><rect x="255.84" y="700.910" width="85.28" height="1.05" fill="#333"/><rect x="341.12" y="89.967" width="85.28" height="1.05" fill="#b8b855"/><rect x="341.12" y="111.034" width="85.28" height="1.05" fill="#b8b855"/><rect x="341.12" y="132.101" width="85.28" height="1.05" fill="#b8b855"/><rect x="341.12" y="153.168" width="85.28" height="1.05" fill="#b8b855"/><rect x="341.12" y="174.235" width="85.28" height="1.05" fill="#b8b855"/><rect x="341.12" y="195.302" width="85.28" height="1.05" fill="#b8b855"/><rect x="341.12" y="216.369" width="85.28" height="1.05" fill="#b8b855"/><rect x="341.12" y="237.436" width="85.28" height="1.05" fill="#b8b855"/><rect x="341.12" y="258.503" width="85.28" height="1.05" fill="#b8b855"/><rect x="341.12" y="279.570" width="85.28" height="1.05" fill="#b8b855"/><rect x="341.12" y="300.637" width="85.28" height="1.05" fill="#b8b855"/><rect x="341.12" y="321.704" width="85.28" height="1.05" fill="#b8b855"/><rect x="341.12" y="342.771" width="85.28" height="1.05" fill="#b8b855"/><rect x="341.12" y="363.838" width="85.28" height="1.05" fill="#b8b855"/><rect x="341.12" y="384.905" width="85.28" height="1.05" fill="#b8b855"/><rect x="341.12" y="405.972" width="85.28" height="1.05" fill="#b8b855"/><rect x="341.12" y="427.039" width="85.28" height="1.05" fill="#b8b855"/><rect x="341.12" y="448.106" width="85.28" height="1.05" fill="#b8b855"/><rect x="341.12" y="469.173" width="85.28" height="1.05" fill="#b8b855"/><rect x="341.12" y="490.240" width="85.28" height="1.05" fill="#b8b855"/><rect x="341.12" y="511.307" width="85.28" height="1.05" fill="#b8b855"/><rect x="341.12" y="532.374" width="85.28" height="1.05" fill="#b8b855"/><rect x="341.12" y="553.441" width="85.28" height="1.05" fill="#b8b855"/><rect x="341.12" y="574.508" width="85.28" height="1.05" fill="#b8b855"/><rect x="341.12" y="595.575" width="85.28" height="1.05" fill="#b8b855"/><rect x="341.12" y="616.642" width="85.28" height="1.05" fill="#b8b855"/><rect x="341.12" y="637.709" width="85.28" height="1.05" fill="#b8b855"/><rect x="341.12" y="658.776" width="85.28" height="1.05" fill="#b8b855"/><rect x="341.12" y="679.843" width="85.28" height="1.05" fill="#b8b855"/><rect x="341.12" y="700.910" width="85.28" height="1.05" fill="#b8b855"/><rect x="426.40" y="89.967" width="85.28" height="1.05" fill="#b8b855"/><rect x="426.40" y="111.034" width="85.28" height="1.05" fill="#b8b855"/><rect x="426.40" y="132.101" width="85.28" height="1.05" fill="#b8b855"/><rect x="426.40" y="153.168" width="85.28" height="1.05" fill="#b8b855"/><rect x="426.40" y="174.235" width="85.28" height="1.05" fill="#b8b855"/><rect x="426.40" y="195.302" width="85.28" height="1.05" fill="#333"/><rect x="426.40" y="216.369" width="85.28" height="1.05" fill="#c06060"/><rect x="426.40" y="237.436" width="85.28" height="1.05" fill="#c06060"/><rect x="426.40" y="258.503" width="85.28" height="1.05" fill="#c06060"/><rect x="426.40" y="279.570" width="85.28" height="1.05" fill="#c06060"/><rect x="426.40" y="300.637" width="85.28" height="1.05" fill="#c06060"/><rect x="426.40" y="321.704" width="85.28" height="1.05" fill="#c06060"/><rect x="426.40" y="342.771" width="85.28" height="1.05" fill="#c06060"/><rect x="426.40" y="363.838" width="85.28" height="1.05" fill="#c06060"/><rect x="426.40" y="384.905" width="85.28" height="1.05" fill="#c06060"/><rect x="426.40" y="405.972" width="85.28" height="1.05" fill="#c06060"/><rect x="426.40" y="427.039" width="85.28" height="1.05" fill="#c06060"/><rect x="426.40" y="448.106" width="85.28" height="1.05" fill="#c06060"/><rect x="426.40" y="469.173" width="85.28" height="1.05" fill="#c06060"/><rect x="426.40" y="490.240" width="85.28" height="1.05" fill="#c06060"/><rect x="426.40" y="511.307" width="85.28" height="1.05" fill="#c06060"/><rect x="426.40" y="532.374" width="85.28" height="1.05" fill="#c06060"/><rect x="426.40" y="553.441" width="85.28" height="1.05" fill="#c06060"/><rect x="426.40" y="574.508" width="85.28" height="1.05" fill="#c06060"/><rect x="426.40" y="595.575" width="85.28" height="1.05" fill="#c06060"/><rect x="426.40" y="616.642" width="85.28" height="1.05" fill="#c06060"/><rect x="426.40" y="637.709" width="85.28" height="1.05" fill="#c06060"/><rect x="426.40" y="658.776" width="85.28" height="1.05" fill="#c06060"/><rect x="426.40" y="679.843" width="85.28" height="1.05" fill="#c06060"/><rect x="426.40" y="700.910" width="85.28" height="1.05" fill="#333"/><rect x="511.68" y="89.967" width="85.28" height="1.05" fill="#c06060"/><rect x="511.68" y="111.034" width="85.28" height="1.05" fill="#c06060"/><rect x="511.68" y="132.101" width="85.28" height="1.05" fill="#c06060"/><rect x="511.68" y="153.168" width="85.28" height="1.05" fill="#c06060"/><rect x="511.68" y="174.235" width="85.28" height="1.05" fill="#c06060"/><rect x="511.68" y="195.302" width="85.28" height="1.05" fill="#c06060"/><rect x="511.68" y="216.369" width="85.28" height="1.05" fill="#c06060"/><rect x="511.68" y="237.436" width="85.28" height="1.05" fill="#c06060"/><rect x="511.68" y="258.503" width="85.28" height="1.05" fill="#c06060"/><rect x="511.68" y="279.570" width="85.28" height="1.05" fill="#c06060"/><rect x="511.68" y="300.637" width="85.28" height="1.05" fill="#c06060"/><rect x="511.68" y="321.704" width="85.28" height="1.05" fill="#c06060"/><rect x="511.68" y="342.771" width="85.28" height="1.05" fill="#c06060"/><rect x="511.68" y="363.838" width="85.28" height="1.05" fill="#c06060"/><rect x="511.68" y="384.905" width="85.28" height="1.05" fill="#c06060"/><rect x="511.68" y="405.972" width="85.28" height="1.05" fill="#c06060"/><rect x="511.68" y="427.039" width="85.28" height="1.05" fill="#c06060"/><rect x="511.68" y="448.106" width="85.28" height="1.05" fill="#c06060"/><rect x="511.68" y="469.173" width="85.28" height="1.05" fill="#c06060"/><rect x="511.68" y="490.240" width="85.28" height="1.05" fill="#c06060"/><rect x="511.68" y="511.307" width="85.28" height="1.05" fill="#c06060"/><rect x="511.68" y="532.374" width="85.28" height="1.05" fill="#c06060"/><rect x="511.68" y="553.441" width="85.28" height="1.05" fill="#c06060"/><rect x="511.68" y="574.508" width="85.28" height="1.05" fill="#c06060"/><rect x="511.68" y="595.575" width="85.28" height="1.05" fill="#c06060"/><rect x="511.68" y="616.642" width="85.28" height="1.05" fill="#c06060"/><rect x="511.68" y="637.709" width="85.28" height="1.05" fill="#c06060"/><rect x="511.68" y="658.776" width="85.28" height="1.05" fill="#c06060"/><rect x="511.68" y="679.843" width="85.28" height="1.05" fill="#c06060"/><rect x="511.68" y="700.910" width="85.28" height="1.05" fill="#c06060"/><rect x="596.96" y="89.967" width="85.28" height="1.05" fill="#c06060"/><rect x="596.96" y="111.034" width="85.28" height="1.05" fill="#c06060"/><rect x="596.96" y="132.101" width="85.28" height="1.05" fill="#c06060"/><rect x="596.96" y="153.168" width="85.28" height="1.05" fill="#c06060"/><rect x="596.96" y="174.235" width="85.28" height="1.05" fill="#c06060"/><rect x="596.96" y="195.302" width="85.28" height="1.05" fill="#c06060"/><rect x="596.96" y="216.369" width="85.28" height="1.05" fill="#c06060"/><rect x="596.96" y="237.436" width="85.28" height="1.05" fill="#c06060"/><rect x="596.96" y="258.503" width="85.28" height="1.05" fill="#c06060"/><rect x="596.96" y="279.570" width="85.28" height="1.05" fill="#c06060"/><rect x="596.96" y="300.637" width="85.28" height="1.05" fill="#c06060"/><rect x="596.96" y="321.704" width="85.28" height="1.05" fill="#c06060"/><rect x="596.96" y="342.771" width="85.28" height="1.05" fill="#c06060"/><rect x="596.96" y="363.838" width="85.28" height="1.05" fill="#c06060"/><rect x="596.96" y="384.905" width="85.28" height="1.05" fill="#c06060"/><rect x="596.96" y="405.972" width="85.28" height="1.05" fill="#c06060"/><rect x="596.96" y="427.039" width="85.28" height="1.05" fill="#c06060"/><rect x="596.96" y="448.106" width="85.28" height="1.05" fill="#c06060"/><rect x="596.96" y="469.173" width="85.28" height="1.05" fill="#c06060"/><rect x="596.96" y="490.240" width="85.28" height="1.05" fill="#c06060"/><rect x="596.96" y="511.307" width="85.28" height="1.05" fill="#c06060"/><rect x="596.96" y="532.374" width="85.28" height="1.05" fill="#c06060"/><rect x="596.96" y="553.441" width="85.28" height="1.05" fill="#c06060"/><rect x="596.96" y="574.508" width="85.28" height="1.05" fill="#c06060"/><rect x="596.96" y="595.575" width="85.28" height="1.05" fill="#c06060"/><rect x="596.96" y="616.642" width="85.28" height="1.05" fill="#c06060"/><rect x="596.96" y="637.709" width="85.28" height="1.05" fill="#c06060"/><rect x="596.96" y="658.776" width="85.28" height="1.05" fill="#c06060"/><rect x="596.96" y="679.843" width="85.28" height="1.05" fill="#c06060"/><rect x="596.96" y="700.910" width="85.28" height="1.05" fill="#c06060"/><rect x="682.24" y="89.967" width="85.28" height="1.05" fill="#c06060"/><rect x="682.24" y="111.034" width="85.28" height="1.05" fill="#c06060"/><rect x="682.24" y="132.101" width="85.28" height="1.05" fill="#c06060"/><rect x="682.24" y="153.168" width="85.28" height="1.05" fill="#c06060"/><rect x="682.24" y="174.235" width="85.28" height="1.05" fill="#c06060"/><rect x="682.24" y="195.302" width="85.28" height="1.05" fill="#c06060"/><rect x="682.24" y="216.369" width="85.28" height="1.05" fill="#c06060"/><rect x="682.24" y="237.436" width="85.28" height="1.05" fill="#c06060"/><rect x="682.24" y="258.503" width="85.28" height="1.05" fill="#c06060"/><rect x="682.24" y="279.570" width="85.28" height="1.05" fill="#c06060"/><rect x="682.24" y="300.637" width="85.28" height="1.05" fill="#c06060"/><rect x="682.24" y="321.704" width="85.28" height="1.05" fill="#c06060"/><rect x="682.24" y="342.771" width="85.28" height="1.05" fill="#c06060"/><rect x="682.24" y="363.838" width="85.28" height="1.05" fill="#c06060"/><rect x="682.24" y="384.905" width="85.28" height="1.05" fill="#c06060"/><rect x="682.24" y="405.972" width="85.28" height="1.05" fill="#c06060"/><rect x="682.24" y="427.039" width="85.28" height="1.05" fill="#c06060"/><rect x="682.24" y="448.106" width="85.28" height="1.05" fill="#c06060"/><rect x="682.24" y="469.173" width="85.28" height="1.05" fill="#333"/><rect x="682.24" y="490.240" width="85.28" height="1.05" fill="#b8b855"/><rect x="682.24" y="511.307" width="85.28" height="1.05" fill="#b8b855"/><rect x="682.24" y="532.374" width="85.28" height="1.05" fill="#b8b855"/><rect x="682.24" y="553.441" width="85.28" height="1.05" fill="#b8b855"/><rect x="682.24" y="574.508" width="85.28" height="1.05" fill="#b8b855"/><rect x="682.24" y="595.575" width="85.28" height="1.05" fill="#b8b855"/><rect x="682.24" y="616.642" width="85.28" height="1.05" fill="#b8b855"/><rect x="682.24" y="637.709" width="85.28" height="1.05" fill="#b8b855"/><rect x="682.24" y="658.776" width="85.28" height="1.05" fill="#b8b855"/><rect x="682.24" y="679.843" width="85.28" height="1.05" fill="#b8b855"/><rect x="682.24" y="700.910" width="85.28" height="1.05" fill="#333"/><rect x="767.52" y="89.967" width="85.28" height="1.05" fill="#b8b855"/><rect x="767.52" y="111.034" width="85.28" height="1.05" fill="#b8b855"/><rect x="767.52" y="132.101" width="85.28" height="1.05" fill="#b8b855"/><rect x="767.52" y="153.168" width="85.28" height="1.05" fill="#b8b855"/><rect x="767.52" y="174.235" width="85.28" height="1.05" fill="#b8b855"/><rect x="767.52" y="195.302" width="85.28" height="1.05" fill="#b8b855"/><rect x="767.52" y="216.369" width="85.28" height="1.05" fill="#b8b855"/><rect x="767.52" y="237.436" width="85.28" height="1.05" fill="#b8b855"/><rect x="767.52" y="258.503" width="85.28" height="1.05" fill="#b8b855"/><rect x="767.52" y="279.570" width="85.28" height="1.05" fill="#b8b855"/><rect x="767.52" y="300.637" width="85.28" height="1.05" fill="#b8b855"/><rect x="767.52" y="321.704" width="85.28" height="1.05" fill="#b8b855"/><rect x="767.52" y="342.771" width="85.28" height="1.05" fill="#b8b855"/><rect x="767.52" y="363.838" width="85.28" height="1.05" fill="#b8b855"/><rect x="767.52" y="384.905" width="85.28" height="1.05" fill="#b8b855"/><rect x="767.52" y="405.972" width="85.28" height="1.05" fill="#b8b855"/><rect x="767.52" y="427.039" width="85.28" height="1.05" fill="#b8b855"/><rect x="767.52" y="448.106" width="85.28" height="1.05" fill="#b8b855"/><rect x="767.52" y="469.173" width="85.28" height="1.05" fill="#b8b855"/><rect x="767.52" y="490.240" width="85.28" height="1.05" fill="#b8b855"/><rect x="767.52" y="511.307" width="85.28" height="1.05" fill="#b8b855"/><rect x="767.52" y="532.374" width="85.28" height="1.05" fill="#b8b855"/><rect x="767.52" y="553.441" width="85.28" height="1.05" fill="#b8b855"/><rect x="767.52" y="574.508" width="85.28" height="1.05" fill="#b8b855"/><rect x="767.52" y="595.575" width="85.28" height="1.05" fill="#b8b855"/><rect x="767.52" y="616.642" width="85.28" height="1.05" fill="#b8b855"/><rect x="767.52" y="637.709" width="85.28" height="1.05" fill="#b8b855"/><rect x="767.52" y="658.776" width="85.28" height="1.05" fill="#b8b855"/><rect x="767.52" y="679.843" width="85.28" height="1.05" fill="#b8b855"/><rect x="767.52" y="700.910" width="85.28" height="1.05" fill="#b8b855"/><rect x="852.80" y="89.967" width="85.28" height="1.05" fill="#4f8a68"/><rect x="852.80" y="111.034" width="85.28" height="1.05" fill="#4f8a68"/><rect x="852.80" y="132.101" width="85.28" height="1.05" fill="#4f8a68"/><rect x="852.80" y="153.168" width="85.28" height="1.05" fill="#4f8a68"/><rect x="852.80" y="174.235" width="85.28" height="1.05" fill="#4f8a68"/><rect x="852.80" y="195.302" width="85.28" height="1.05" fill="#4f8a68"/><rect x="852.80" y="216.369" width="85.28" height="1.05" fill="#4f8a68"/><rect x="852.80" y="237.436" width="85.28" height="1.05" fill="#4f8a68"/><rect x="852.80" y="258.503" width="85.28" height="1.05" fill="#4f8a68"/><rect x="852.80" y="279.570" width="85.28" height="1.05" fill="#4f8a68"/><rect x="852.80" y="300.637" width="85.28" height="1.05" fill="#4f8a68"/><rect x="852.80" y="321.704" width="85.28" height="1.05" fill="#4f8a68"/><rect x="852.80" y="342.771" width="85.28" height="1.05" fill="#4f8a68"/><rect x="852.80" y="363.838" width="85.28" height="1.05" fill="#4f8a68"/><rect x="852.80" y="384.905" width="85.28" height="1.05" fill="#4f8a68"/><rect x="852.80" y="405.972" width="85.28" height="1.05" fill="#4f8a68"/><rect x="852.80" y="427.039" width="85.28" height="1.05" fill="#4f8a68"/><rect x="852.80" y="448.106" width="85.28" height="1.05" fill="#4f8a68"/><rect x="852.80" y="469.173" width="85.28" height="1.05" fill="#4f8a68"/><rect x="852.80" y="490.240" width="85.28" height="1.05" fill="#4f8a68"/><rect x="852.80" y="511.307" width="85.28" height="1.05" fill="#4f8a68"/><rect x="852.80" y="532.374" width="85.28" height="1.05" fill="#4f8a68"/><rect x="852.80" y="553.441" width="85.28" height="1.05" fill="#4f8a68"/><rect x="852.80" y="574.508" width="85.28" height="1.05" fill="#4f8a68"/><rect x="852.80" y="595.575" width="85.28" height="1.05" fill="#4f8a68"/><rect x="852.80" y="616.642" width="85.28" height="1.05" fill="#4f8a68"/><rect x="852.80" y="637.709" width="85.28" height="1.05" fill="#4f8a68"/><rect x="852.80" y="658.776" width="85.28" height="1.05" fill="#4f8a68"/><rect x="852.80" y="679.843" width="85.28" height="1.05" fill="#4f8a68"/><rect x="852.80" y="700.910" width="85.28" height="1.05" fill="#333"/><rect x="938.08" y="89.967" width="85.28" height="1.05" fill="#4f8a68"/><rect x="938.08" y="111.034" width="85.28" height="1.05" fill="#4f8a68"/><rect x="938.08" y="132.101" width="85.28" height="1.05" fill="#4f8a68"/><rect x="938.08" y="153.168" width="85.28" height="1.05" fill="#4f8a68"/><rect x="938.08" y="174.235" width="85.28" height="1.05" fill="#4f8a68"/><rect x="938.08" y="195.302" width="85.28" height="1.05" fill="#4f8a68"/><rect x="938.08" y="216.369" width="85.28" height="1.05" fill="#4f8a68"/><rect x="938.08" y="237.436" width="85.28" height="1.05" fill="#4f8a68"/><rect x="938.08" y="258.503" width="85.28" height="1.05" fill="#4f8a68"/><rect x="938.08" y="279.570" width="85.28" height="1.05" fill="#4f8a68"/><rect x="938.08" y="300.637" width="85.28" height="1.05" fill="#4f8a68"/><rect x="938.08" y="321.704" width="85.28" height="1.05" fill="#4f8a68"/><rect x="938.08" y="342.771" width="85.28" height="1.05" fill="#4f8a68"/><rect x="938.08" y="363.838" width="85.28" height="1.05" fill="#4f8a68"/><rect x="938.08" y="384.905" width="85.28" height="1.05" fill="#4f8a68"/><rect x="938.08" y="405.972" width="85.28" height="1.05" fill="#4f8a68"/><rect x="938.08" y="427.039" width="85.28" height="1.05" fill="#4f8a68"/><rect x="938.08" y="448.106" width="85.28" height="1.05" fill="#4f8a68"/><rect x="938.08" y="469.173" width="85.28" height="1.05" fill="#4f8a68"/><rect x="938.08" y="490.240" width="85.28" height="1.05" fill="#4f8a68"/><rect x="938.08" y="511.307" width="85.28" height="1.05" fill="#4f8a68"/><rect x="938.08" y="532.374" width="85.28" height="1.05" fill="#4f8a68"/><rect x="938.08" y="553.441" width="85.28" height="1.05" fill="#4f8a68"/><rect x="938.08" y="574.508" width="85.28" height="1.05" fill="#4f8a68"/><rect x="938.08" y="595.575" width="85.28" height="1.05" fill="#4f8a68"/><rect x="938.08" y="616.642" width="85.28" height="1.05" fill="#4f8a68"/><rect x="938.08" y="637.709" width="85.28" height="1.05" fill="#4f8a68"/><rect x="938.08" y="658.776" width="85.28" height="1.05" fill="#4f8a68"/><rect x="938.08" y="679.843" width="85.28" height="1.05" fill="#4f8a68"/><rect x="938.08" y="700.910" width="85.28" height="1.05" fill="#4f8a68"/><rect x="0" y="68.850" width="1024" height="1.1" fill="#333"/><rect x="0" y="721.927" width="1024" height="1.1" fill="#333"/><rect x="84.58" y="69.40" width="1.4" height="653.60" fill="#222"/><rect x="169.86" y="69.40" width="1.4" height="653.60" fill="#222"/><rect x="255.14" y="69.40" width="1.4" height="653.60" fill="#222"/><rect x="340.42" y="69.40" width="1.4" height="653.60" fill="#222"/><rect x="425.70" y="69.40" width="1.4" height="653.60" fill="#222"/><rect x="510.98" y="69.40" width="1.4" height="653.60" fill="#222"/><rect x="596.26" y="69.40" width="1.4" height="653.60" fill="#222"/><rect x="681.54" y="69.40" width="1.4" height="653.60" fill="#222"/><rect x="766.82" y="69.40" width="1.4" height="653.60" fill="#222"/><rect x="852.10" y="69.40" width="1.4" height="653.60" fill="#222"/><rect x="937.38" y="69.40" width="1.4" height="653.60" fill="#222"/><rect x="1022.66" y="69.40" width="1.4" height="653.60" fill="#222"/></svg>
</body></html>
